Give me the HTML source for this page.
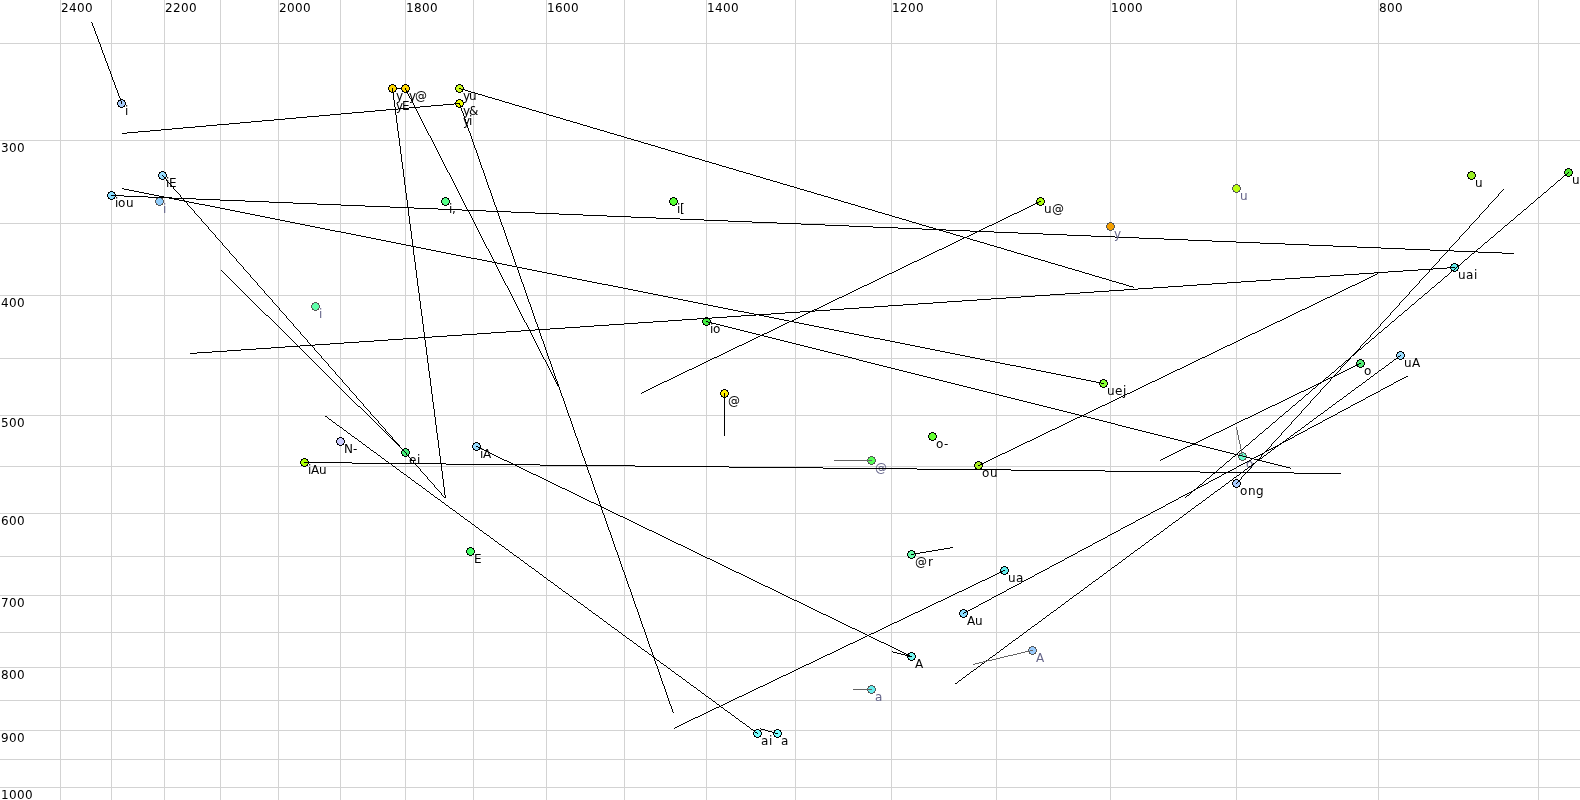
<!DOCTYPE html><html><head><meta charset="utf-8"><style>html,body{margin:0;padding:0;background:#fff;overflow:hidden}svg{display:block;will-change:transform}</style></head><body><svg width="1580" height="800" viewBox="0 0 1580 800">
<rect width="1580" height="800" fill="#fff"/>
<g stroke="#d3d3d3" stroke-width="1" shape-rendering="crispEdges">
<line x1="60.5" y1="0" x2="60.5" y2="800"/>
<line x1="111.5" y1="0" x2="111.5" y2="800"/>
<line x1="164.5" y1="0" x2="164.5" y2="800"/>
<line x1="220.5" y1="0" x2="220.5" y2="800"/>
<line x1="278.5" y1="0" x2="278.5" y2="800"/>
<line x1="340.5" y1="0" x2="340.5" y2="800"/>
<line x1="405.5" y1="0" x2="405.5" y2="800"/>
<line x1="473.5" y1="0" x2="473.5" y2="800"/>
<line x1="546.5" y1="0" x2="546.5" y2="800"/>
<line x1="624.5" y1="0" x2="624.5" y2="800"/>
<line x1="706.5" y1="0" x2="706.5" y2="800"/>
<line x1="795.5" y1="0" x2="795.5" y2="800"/>
<line x1="891.5" y1="0" x2="891.5" y2="800"/>
<line x1="996.5" y1="0" x2="996.5" y2="800"/>
<line x1="1110.5" y1="0" x2="1110.5" y2="800"/>
<line x1="1236.5" y1="0" x2="1236.5" y2="800"/>
<line x1="1378.5" y1="0" x2="1378.5" y2="800"/>
<line x1="1538.5" y1="0" x2="1538.5" y2="800"/>
<line x1="0" y1="43.5" x2="1580" y2="43.5"/>
<line x1="0" y1="140.5" x2="1580" y2="140.5"/>
<line x1="0" y1="223.5" x2="1580" y2="223.5"/>
<line x1="0" y1="295.5" x2="1580" y2="295.5"/>
<line x1="0" y1="358.5" x2="1580" y2="358.5"/>
<line x1="0" y1="415.5" x2="1580" y2="415.5"/>
<line x1="0" y1="466.5" x2="1580" y2="466.5"/>
<line x1="0" y1="513.5" x2="1580" y2="513.5"/>
<line x1="0" y1="556.5" x2="1580" y2="556.5"/>
<line x1="0" y1="595.5" x2="1580" y2="595.5"/>
<line x1="0" y1="632.5" x2="1580" y2="632.5"/>
<line x1="0" y1="667.5" x2="1580" y2="667.5"/>
<line x1="0" y1="700.5" x2="1580" y2="700.5"/>
<line x1="0" y1="730.5" x2="1580" y2="730.5"/>
<line x1="0" y1="759.5" x2="1580" y2="759.5"/>
<line x1="0" y1="787.5" x2="1580" y2="787.5"/>
</g>
<g font-family="DejaVu Sans, Liberation Sans, sans-serif" font-size="12" fill="#000" >
<text x="61 69 77 85" y="12">2400</text>
<text x="165 173 181 189" y="12">2200</text>
<text x="279 287 295 303" y="12">2000</text>
<text x="406 414 422 430" y="12">1800</text>
<text x="547 555 563 571" y="12">1600</text>
<text x="707 715 723 731" y="12">1400</text>
<text x="892 900 908 916" y="12">1200</text>
<text x="1111 1119 1127 1135" y="12">1000</text>
<text x="1379 1387 1395" y="12">800</text>
<text x="1 9 17" y="152">300</text>
<text x="1 9 17" y="307">400</text>
<text x="1 9 17" y="427">500</text>
<text x="1 9 17" y="525">600</text>
<text x="1 9 17" y="607">700</text>
<text x="1 9 17" y="679">800</text>
<text x="1 9 17" y="742">900</text>
<text x="1 9 17 25" y="799">1000</text>
</g>
<path shape-rendering="crispEdges" fill="#000" d="M392 88h14v1h-14z"/>
<g shape-rendering="crispEdges">
<path d="M120 99 123 99 123 100 125 100 125 102 126 102 126 105 125 105 125 107 123 107 123 108 120 108 120 107 118 107 118 105 117 105 117 102 118 102 118 100 120 100Z" fill="#000"/><path d="M120 100 123 100 123 101 124 101 124 102 125 102 125 105 124 105 124 106 123 106 123 107 120 107 120 106 119 106 119 105 118 105 118 102 119 102 119 101 120 101Z" fill="#a8ccfa"/>
<path d="M391 84 394 84 394 85 396 85 396 87 397 87 397 90 396 90 396 92 394 92 394 93 391 93 391 92 389 92 389 90 388 90 388 87 389 87 389 85 391 85Z" fill="#000"/><path d="M391 85 394 85 394 86 395 86 395 87 396 87 396 90 395 90 395 91 394 91 394 92 391 92 391 91 390 91 390 90 389 90 389 87 390 87 390 86 391 86Z" fill="#ffd800"/>
<path d="M404 84 407 84 407 85 409 85 409 87 410 87 410 90 409 90 409 92 407 92 407 93 404 93 404 92 402 92 402 90 401 90 401 87 402 87 402 85 404 85Z" fill="#000"/><path d="M404 85 407 85 407 86 408 86 408 87 409 87 409 90 408 90 408 91 407 91 407 92 404 92 404 91 403 91 403 90 402 90 402 87 403 87 403 86 404 86Z" fill="#ffd800"/>
<path d="M458 84 461 84 461 85 463 85 463 87 464 87 464 90 463 90 463 92 461 92 461 93 458 93 458 92 456 92 456 90 455 90 455 87 456 87 456 85 458 85Z" fill="#000"/><path d="M458 85 461 85 461 86 462 86 462 87 463 87 463 90 462 90 462 91 461 91 461 92 458 92 458 91 457 91 457 90 456 90 456 87 457 87 457 86 458 86Z" fill="#ccff22"/>
<path d="M458 99 461 99 461 100 463 100 463 102 464 102 464 105 463 105 463 107 461 107 461 108 458 108 458 107 456 107 456 105 455 105 455 102 456 102 456 100 458 100Z" fill="#000"/><path d="M458 100 461 100 461 101 462 101 462 102 463 102 463 105 462 105 462 106 461 106 461 107 458 107 458 106 457 106 457 105 456 105 456 102 457 102 457 101 458 101Z" fill="#eeff00"/>
<path d="M161 171 164 171 164 172 166 172 166 174 167 174 167 177 166 177 166 179 164 179 164 180 161 180 161 179 159 179 159 177 158 177 158 174 159 174 159 172 161 172Z" fill="#000"/><path d="M161 172 164 172 164 173 165 173 165 174 166 174 166 177 165 177 165 178 164 178 164 179 161 179 161 178 160 178 160 177 159 177 159 174 160 174 160 173 161 173Z" fill="#99ddff"/>
<path d="M110 191 113 191 113 192 115 192 115 194 116 194 116 197 115 197 115 199 113 199 113 200 110 200 110 199 108 199 108 197 107 197 107 194 108 194 108 192 110 192Z" fill="#000"/><path d="M110 192 113 192 113 193 114 193 114 194 115 194 115 197 114 197 114 198 113 198 113 199 110 199 110 198 109 198 109 197 108 197 108 194 109 194 109 193 110 193Z" fill="#88ddff"/>
<path d="M158 197 161 197 161 198 163 198 163 200 164 200 164 203 163 203 163 205 161 205 161 206 158 206 158 205 156 205 156 203 155 203 155 200 156 200 156 198 158 198Z" fill="#555555"/><path d="M158 198 161 198 161 199 162 199 162 200 163 200 163 203 162 203 162 204 161 204 161 205 158 205 158 204 157 204 157 203 156 203 156 200 157 200 157 199 158 199Z" fill="#90ccfa"/>
<path d="M444 197 447 197 447 198 449 198 449 200 450 200 450 203 449 203 449 205 447 205 447 206 444 206 444 205 442 205 442 203 441 203 441 200 442 200 442 198 444 198Z" fill="#000"/><path d="M444 198 447 198 447 199 448 199 448 200 449 200 449 203 448 203 448 204 447 204 447 205 444 205 444 204 443 204 443 203 442 203 442 200 443 200 443 199 444 199Z" fill="#55ff88"/>
<path d="M672 197 675 197 675 198 677 198 677 200 678 200 678 203 677 203 677 205 675 205 675 206 672 206 672 205 670 205 670 203 669 203 669 200 670 200 670 198 672 198Z" fill="#000"/><path d="M672 198 675 198 675 199 676 199 676 200 677 200 677 203 676 203 676 204 675 204 675 205 672 205 672 204 671 204 671 203 670 203 670 200 671 200 671 199 672 199Z" fill="#55ff33"/>
<path d="M1039 197 1042 197 1042 198 1044 198 1044 200 1045 200 1045 203 1044 203 1044 205 1042 205 1042 206 1039 206 1039 205 1037 205 1037 203 1036 203 1036 200 1037 200 1037 198 1039 198Z" fill="#000"/><path d="M1039 198 1042 198 1042 199 1043 199 1043 200 1044 200 1044 203 1043 203 1043 204 1042 204 1042 205 1039 205 1039 204 1038 204 1038 203 1037 203 1037 200 1038 200 1038 199 1039 199Z" fill="#aaff11"/>
<path d="M1109 222 1112 222 1112 223 1114 223 1114 225 1115 225 1115 228 1114 228 1114 230 1112 230 1112 231 1109 231 1109 230 1107 230 1107 228 1106 228 1106 225 1107 225 1107 223 1109 223Z" fill="#555555"/><path d="M1109 223 1112 223 1112 224 1113 224 1113 225 1114 225 1114 228 1113 228 1113 229 1112 229 1112 230 1109 230 1109 229 1108 229 1108 228 1107 228 1107 225 1108 225 1108 224 1109 224Z" fill="#f5a000"/>
<path d="M1235 184 1238 184 1238 185 1240 185 1240 187 1241 187 1241 190 1240 190 1240 192 1238 192 1238 193 1235 193 1235 192 1233 192 1233 190 1232 190 1232 187 1233 187 1233 185 1235 185Z" fill="#555555"/><path d="M1235 185 1238 185 1238 186 1239 186 1239 187 1240 187 1240 190 1239 190 1239 191 1238 191 1238 192 1235 192 1235 191 1234 191 1234 190 1233 190 1233 187 1234 187 1234 186 1235 186Z" fill="#bbff11"/>
<path d="M1470 171 1473 171 1473 172 1475 172 1475 174 1476 174 1476 177 1475 177 1475 179 1473 179 1473 180 1470 180 1470 179 1468 179 1468 177 1467 177 1467 174 1468 174 1468 172 1470 172Z" fill="#000"/><path d="M1470 172 1473 172 1473 173 1474 173 1474 174 1475 174 1475 177 1474 177 1474 178 1473 178 1473 179 1470 179 1470 178 1469 178 1469 177 1468 177 1468 174 1469 174 1469 173 1470 173Z" fill="#99ee22"/>
<path d="M1567 168 1570 168 1570 169 1572 169 1572 171 1573 171 1573 174 1572 174 1572 176 1570 176 1570 177 1567 177 1567 176 1565 176 1565 174 1564 174 1564 171 1565 171 1565 169 1567 169Z" fill="#000"/><path d="M1567 169 1570 169 1570 170 1571 170 1571 171 1572 171 1572 174 1571 174 1571 175 1570 175 1570 176 1567 176 1567 175 1566 175 1566 174 1565 174 1565 171 1566 171 1566 170 1567 170Z" fill="#55ee33"/>
<path d="M1453 263 1456 263 1456 264 1458 264 1458 266 1459 266 1459 269 1458 269 1458 271 1456 271 1456 272 1453 272 1453 271 1451 271 1451 269 1450 269 1450 266 1451 266 1451 264 1453 264Z" fill="#000"/><path d="M1453 264 1456 264 1456 265 1457 265 1457 266 1458 266 1458 269 1457 269 1457 270 1456 270 1456 271 1453 271 1453 270 1452 270 1452 269 1451 269 1451 266 1452 266 1452 265 1453 265Z" fill="#66eeee"/>
<path d="M314 302 317 302 317 303 319 303 319 305 320 305 320 308 319 308 319 310 317 310 317 311 314 311 314 310 312 310 312 308 311 308 311 305 312 305 312 303 314 303Z" fill="#555555"/><path d="M314 303 317 303 317 304 318 304 318 305 319 305 319 308 318 308 318 309 317 309 317 310 314 310 314 309 313 309 313 308 312 308 312 305 313 305 313 304 314 304Z" fill="#5fffaa"/>
<path d="M705 317 708 317 708 318 710 318 710 320 711 320 711 323 710 323 710 325 708 325 708 326 705 326 705 325 703 325 703 323 702 323 702 320 703 320 703 318 705 318Z" fill="#000"/><path d="M705 318 708 318 708 319 709 319 709 320 710 320 710 323 709 323 709 324 708 324 708 325 705 325 705 324 704 324 704 323 703 323 703 320 704 320 704 319 705 319Z" fill="#44ee44"/>
<path d="M1102 379 1105 379 1105 380 1107 380 1107 382 1108 382 1108 385 1107 385 1107 387 1105 387 1105 388 1102 388 1102 387 1100 387 1100 385 1099 385 1099 382 1100 382 1100 380 1102 380Z" fill="#000"/><path d="M1102 380 1105 380 1105 381 1106 381 1106 382 1107 382 1107 385 1106 385 1106 386 1105 386 1105 387 1102 387 1102 386 1101 386 1101 385 1100 385 1100 382 1101 382 1101 381 1102 381Z" fill="#88ff33"/>
<path d="M723 389 726 389 726 390 728 390 728 392 729 392 729 395 728 395 728 397 726 397 726 398 723 398 723 397 721 397 721 395 720 395 720 392 721 392 721 390 723 390Z" fill="#000"/><path d="M723 390 726 390 726 391 727 391 727 392 728 392 728 395 727 395 727 396 726 396 726 397 723 397 723 396 722 396 722 395 721 395 721 392 722 392 722 391 723 391Z" fill="#ffee00"/>
<path d="M1359 359 1362 359 1362 360 1364 360 1364 362 1365 362 1365 365 1364 365 1364 367 1362 367 1362 368 1359 368 1359 367 1357 367 1357 365 1356 365 1356 362 1357 362 1357 360 1359 360Z" fill="#000"/><path d="M1359 360 1362 360 1362 361 1363 361 1363 362 1364 362 1364 365 1363 365 1363 366 1362 366 1362 367 1359 367 1359 366 1358 366 1358 365 1357 365 1357 362 1358 362 1358 361 1359 361Z" fill="#55ee77"/>
<path d="M1399 351 1402 351 1402 352 1404 352 1404 354 1405 354 1405 357 1404 357 1404 359 1402 359 1402 360 1399 360 1399 359 1397 359 1397 357 1396 357 1396 354 1397 354 1397 352 1399 352Z" fill="#000"/><path d="M1399 352 1402 352 1402 353 1403 353 1403 354 1404 354 1404 357 1403 357 1403 358 1402 358 1402 359 1399 359 1399 358 1398 358 1398 357 1397 357 1397 354 1398 354 1398 353 1399 353Z" fill="#99ddff"/>
<path d="M1241 452 1244 452 1244 453 1246 453 1246 455 1247 455 1247 458 1246 458 1246 460 1244 460 1244 461 1241 461 1241 460 1239 460 1239 458 1238 458 1238 455 1239 455 1239 453 1241 453Z" fill="#555555"/><path d="M1241 453 1244 453 1244 454 1245 454 1245 455 1246 455 1246 458 1245 458 1245 459 1244 459 1244 460 1241 460 1241 459 1240 459 1240 458 1239 458 1239 455 1240 455 1240 454 1241 454Z" fill="#66ffcc"/>
<path d="M1235 479 1238 479 1238 480 1240 480 1240 482 1241 482 1241 485 1240 485 1240 487 1238 487 1238 488 1235 488 1235 487 1233 487 1233 485 1232 485 1232 482 1233 482 1233 480 1235 480Z" fill="#000"/><path d="M1235 480 1238 480 1238 481 1239 481 1239 482 1240 482 1240 485 1239 485 1239 486 1238 486 1238 487 1235 487 1235 486 1234 486 1234 485 1233 485 1233 482 1234 482 1234 481 1235 481Z" fill="#aaccff"/>
<path d="M339 437 342 437 342 438 344 438 344 440 345 440 345 443 344 443 344 445 342 445 342 446 339 446 339 445 337 445 337 443 336 443 336 440 337 440 337 438 339 438Z" fill="#000"/><path d="M339 438 342 438 342 439 343 439 343 440 344 440 344 443 343 443 343 444 342 444 342 445 339 445 339 444 338 444 338 443 337 443 337 440 338 440 338 439 339 439Z" fill="#ccccff"/>
<path d="M404 448 407 448 407 449 409 449 409 451 410 451 410 454 409 454 409 456 407 456 407 457 404 457 404 456 402 456 402 454 401 454 401 451 402 451 402 449 404 449Z" fill="#000"/><path d="M404 449 407 449 407 450 408 450 408 451 409 451 409 454 408 454 408 455 407 455 407 456 404 456 404 455 403 455 403 454 402 454 402 451 403 451 403 450 404 450Z" fill="#44ee77"/>
<path d="M475 442 478 442 478 443 480 443 480 445 481 445 481 448 480 448 480 450 478 450 478 451 475 451 475 450 473 450 473 448 472 448 472 445 473 445 473 443 475 443Z" fill="#000"/><path d="M475 443 478 443 478 444 479 444 479 445 480 445 480 448 479 448 479 449 478 449 478 450 475 450 475 449 474 449 474 448 473 448 473 445 474 445 474 444 475 444Z" fill="#99ddff"/>
<path d="M303 458 306 458 306 459 308 459 308 461 309 461 309 464 308 464 308 466 306 466 306 467 303 467 303 466 301 466 301 464 300 464 300 461 301 461 301 459 303 459Z" fill="#000"/><path d="M303 459 306 459 306 460 307 460 307 461 308 461 308 464 307 464 307 465 306 465 306 466 303 466 303 465 302 465 302 464 301 464 301 461 302 461 302 460 303 460Z" fill="#aaff00"/>
<path d="M931 432 934 432 934 433 936 433 936 435 937 435 937 438 936 438 936 440 934 440 934 441 931 441 931 440 929 440 929 438 928 438 928 435 929 435 929 433 931 433Z" fill="#000"/><path d="M931 433 934 433 934 434 935 434 935 435 936 435 936 438 935 438 935 439 934 439 934 440 931 440 931 439 930 439 930 438 929 438 929 435 930 435 930 434 931 434Z" fill="#66ff33"/>
<path d="M870 456 873 456 873 457 875 457 875 459 876 459 876 462 875 462 875 464 873 464 873 465 870 465 870 464 868 464 868 462 867 462 867 459 868 459 868 457 870 457Z" fill="#555555"/><path d="M870 457 873 457 873 458 874 458 874 459 875 459 875 462 874 462 874 463 873 463 873 464 870 464 870 463 869 463 869 462 868 462 868 459 869 459 869 458 870 458Z" fill="#55ff55"/>
<path d="M977 461 980 461 980 462 982 462 982 464 983 464 983 467 982 467 982 469 980 469 980 470 977 470 977 469 975 469 975 467 974 467 974 464 975 464 975 462 977 462Z" fill="#000"/><path d="M977 462 980 462 980 463 981 463 981 464 982 464 982 467 981 467 981 468 980 468 980 469 977 469 977 468 976 468 976 467 975 467 975 464 976 464 976 463 977 463Z" fill="#aaee22"/>
<path d="M469 547 472 547 472 548 474 548 474 550 475 550 475 553 474 553 474 555 472 555 472 556 469 556 469 555 467 555 467 553 466 553 466 550 467 550 467 548 469 548Z" fill="#000"/><path d="M469 548 472 548 472 549 473 549 473 550 474 550 474 553 473 553 473 554 472 554 472 555 469 555 469 554 468 554 468 553 467 553 467 550 468 550 468 549 469 549Z" fill="#44ff66"/>
<path d="M910 550 913 550 913 551 915 551 915 553 916 553 916 556 915 556 915 558 913 558 913 559 910 559 910 558 908 558 908 556 907 556 907 553 908 553 908 551 910 551Z" fill="#000"/><path d="M910 551 913 551 913 552 914 552 914 553 915 553 915 556 914 556 914 557 913 557 913 558 910 558 910 557 909 557 909 556 908 556 908 553 909 553 909 552 910 552Z" fill="#66ffaa"/>
<path d="M1003 566 1006 566 1006 567 1008 567 1008 569 1009 569 1009 572 1008 572 1008 574 1006 574 1006 575 1003 575 1003 574 1001 574 1001 572 1000 572 1000 569 1001 569 1001 567 1003 567Z" fill="#000"/><path d="M1003 567 1006 567 1006 568 1007 568 1007 569 1008 569 1008 572 1007 572 1007 573 1006 573 1006 574 1003 574 1003 573 1002 573 1002 572 1001 572 1001 569 1002 569 1002 568 1003 568Z" fill="#66eeee"/>
<path d="M962 609 965 609 965 610 967 610 967 612 968 612 968 615 967 615 967 617 965 617 965 618 962 618 962 617 960 617 960 615 959 615 959 612 960 612 960 610 962 610Z" fill="#000"/><path d="M962 610 965 610 965 611 966 611 966 612 967 612 967 615 966 615 966 616 965 616 965 617 962 617 962 616 961 616 961 615 960 615 960 612 961 612 961 611 962 611Z" fill="#88ddff"/>
<path d="M910 652 913 652 913 653 915 653 915 655 916 655 916 658 915 658 915 660 913 660 913 661 910 661 910 660 908 660 908 658 907 658 907 655 908 655 908 653 910 653Z" fill="#000"/><path d="M910 653 913 653 913 654 914 654 914 655 915 655 915 658 914 658 914 659 913 659 913 660 910 660 910 659 909 659 909 658 908 658 908 655 909 655 909 654 910 654Z" fill="#77f7f0"/>
<path d="M1031 646 1034 646 1034 647 1036 647 1036 649 1037 649 1037 652 1036 652 1036 654 1034 654 1034 655 1031 655 1031 654 1029 654 1029 652 1028 652 1028 649 1029 649 1029 647 1031 647Z" fill="#555555"/><path d="M1031 647 1034 647 1034 648 1035 648 1035 649 1036 649 1036 652 1035 652 1035 653 1034 653 1034 654 1031 654 1031 653 1030 653 1030 652 1029 652 1029 649 1030 649 1030 648 1031 648Z" fill="#99ccff"/>
<path d="M870 685 873 685 873 686 875 686 875 688 876 688 876 691 875 691 875 693 873 693 873 694 870 694 870 693 868 693 868 691 867 691 867 688 868 688 868 686 870 686Z" fill="#555555"/><path d="M870 686 873 686 873 687 874 687 874 688 875 688 875 691 874 691 874 692 873 692 873 693 870 693 870 692 869 692 869 691 868 691 868 688 869 688 869 687 870 687Z" fill="#66eeee"/>
<path d="M756 729 759 729 759 730 761 730 761 732 762 732 762 735 761 735 761 737 759 737 759 738 756 738 756 737 754 737 754 735 753 735 753 732 754 732 754 730 756 730Z" fill="#000"/><path d="M756 730 759 730 759 731 760 731 760 732 761 732 761 735 760 735 760 736 759 736 759 737 756 737 756 736 755 736 755 735 754 735 754 732 755 732 755 731 756 731Z" fill="#77ffff"/>
<path d="M776 729 779 729 779 730 781 730 781 732 782 732 782 735 781 735 781 737 779 737 779 738 776 738 776 737 774 737 774 735 773 735 773 732 774 732 774 730 776 730Z" fill="#000"/><path d="M776 730 779 730 779 731 780 731 780 732 781 732 781 735 780 735 780 736 779 736 779 737 776 737 776 736 775 736 775 735 774 735 774 732 775 732 775 731 776 731Z" fill="#77ffff"/>
</g>
<path shape-rendering="crispEdges" fill="#000" d="M111 195h13v1h-13zM124 196h24v1h-24zM148 197h24v1h-24zM172 198h24v1h-24zM196 199h24v1h-24zM220 200h25v1h-25zM245 201h24v1h-24zM269 202h24v1h-24zM293 203h24v1h-24zM317 204h24v1h-24zM341 205h24v1h-24zM365 206h25v1h-25zM390 207h24v1h-24zM414 208h24v1h-24zM438 209h24v1h-24zM462 210h24v1h-24zM486 211h25v1h-25zM511 212h24v1h-24zM535 213h24v1h-24zM559 214h24v1h-24zM583 215h24v1h-24zM607 216h24v1h-24zM631 217h25v1h-25zM656 218h24v1h-24zM680 219h24v1h-24zM704 220h24v1h-24zM728 221h24v1h-24zM752 222h25v1h-25zM777 223h24v1h-24zM801 224h24v1h-24zM825 225h24v1h-24zM849 226h24v1h-24zM873 227h25v1h-25zM898 228h24v1h-24zM922 229h24v1h-24zM946 230h24v1h-24zM970 231h24v1h-24zM994 232h24v1h-24zM1018 233h25v1h-25zM1043 234h24v1h-24zM1067 235h24v1h-24zM1091 236h24v1h-24zM1115 237h24v1h-24zM1139 238h25v1h-25zM1164 239h24v1h-24zM1188 240h24v1h-24zM1212 241h24v1h-24zM1236 242h24v1h-24zM1260 243h25v1h-25zM1285 244h24v1h-24zM1309 245h24v1h-24zM1333 246h24v1h-24zM1357 247h24v1h-24zM1381 248h24v1h-24zM1405 249h25v1h-25zM1430 250h24v1h-24zM1454 251h24v1h-24zM1478 252h24v1h-24zM1502 253h12v1h-12z"/>
<g font-family="DejaVu Sans, Liberation Sans, sans-serif" font-size="12" fill="#646489">
<text x="163" y="213">i</text>
<text x="1114" y="238">y</text>
<text x="1240" y="200">u</text>
<text x="319" y="318">i</text>
<text x="1246" y="468">o</text>
<text x="875" y="472">@</text>
<text x="1036" y="662">A</text>
<text x="875" y="701">a</text>
</g>
<path shape-rendering="crispEdges" fill="#000" d="M91 22h1v1h-1zM92 23h1v1h-1zM92 24h1v1h-1zM92 25h1v1h-1zM93 26h1v1h-1zM93 27h1v1h-1zM94 28h1v1h-1zM94 29h1v1h-1zM94 30h1v1h-1zM95 31h1v1h-1zM95 32h1v1h-1zM95 33h1v1h-1zM96 34h1v1h-1zM96 35h1v1h-1zM97 36h1v1h-1zM97 37h1v1h-1zM97 38h1v1h-1zM98 39h1v1h-1zM98 40h1v1h-1zM98 41h1v1h-1zM99 42h1v1h-1zM99 43h1v1h-1zM100 44h1v1h-1zM100 45h1v1h-1zM100 46h1v1h-1zM101 47h1v1h-1zM101 48h1v1h-1zM101 49h1v1h-1zM102 50h1v1h-1zM102 51h1v1h-1zM102 52h1v1h-1zM103 53h1v1h-1zM103 54h1v1h-1zM104 55h1v1h-1zM104 56h1v1h-1zM104 57h1v1h-1zM105 58h1v1h-1zM105 59h1v1h-1zM105 60h1v1h-1zM106 61h1v1h-1zM106 62h1v1h-1zM107 63h1v1h-1zM107 64h1v1h-1zM107 65h1v1h-1zM108 66h1v1h-1zM108 67h1v1h-1zM108 68h1v1h-1zM109 69h1v1h-1zM109 70h1v1h-1zM110 71h1v1h-1zM110 72h1v1h-1zM110 73h1v1h-1zM111 74h1v1h-1zM111 75h1v1h-1zM111 76h1v1h-1zM112 77h1v1h-1zM112 78h1v1h-1zM112 79h1v1h-1zM113 80h1v1h-1zM113 81h1v1h-1zM114 82h1v1h-1zM114 83h1v1h-1zM114 84h1v1h-1zM115 85h1v1h-1zM115 86h1v1h-1zM115 87h1v1h-1zM116 88h1v1h-1zM392 88h1v1h-1zM405 88h1v1h-1zM459 88h2v1h-2zM116 89h1v1h-1zM392 89h1v1h-1zM405 89h1v1h-1zM461 89h4v1h-4zM117 90h1v1h-1zM392 90h1v1h-1zM406 90h1v1h-1zM465 90h3v1h-3zM117 91h1v1h-1zM392 91h1v1h-1zM406 91h1v1h-1zM468 91h3v1h-3zM117 92h1v1h-1zM393 92h1v1h-1zM407 92h1v1h-1zM471 92h4v1h-4zM118 93h1v1h-1zM393 93h1v1h-1zM407 93h1v1h-1zM475 93h3v1h-3zM118 94h1v1h-1zM393 94h1v1h-1zM408 94h1v1h-1zM478 94h4v1h-4zM118 95h1v1h-1zM393 95h1v1h-1zM408 95h1v1h-1zM482 95h3v1h-3zM119 96h1v1h-1zM393 96h1v1h-1zM409 96h1v1h-1zM485 96h3v1h-3zM119 97h1v1h-1zM393 97h1v1h-1zM409 97h1v1h-1zM488 97h4v1h-4zM120 98h1v1h-1zM393 98h1v1h-1zM410 98h1v1h-1zM492 98h3v1h-3zM120 99h1v1h-1zM393 99h1v1h-1zM411 99h1v1h-1zM495 99h4v1h-4zM120 100h1v1h-1zM394 100h1v1h-1zM411 100h1v1h-1zM499 100h3v1h-3zM121 101h1v1h-1zM394 101h1v1h-1zM412 101h1v1h-1zM502 101h3v1h-3zM121 102h1v1h-1zM394 102h1v1h-1zM412 102h1v1h-1zM505 102h4v1h-4zM121 103h1v1h-1zM394 103h1v1h-1zM413 103h1v1h-1zM454 103h6v1h-6zM509 103h3v1h-3zM394 104h1v1h-1zM413 104h1v1h-1zM443 104h11v1h-11zM459 104h1v1h-1zM512 104h3v1h-3zM394 105h1v1h-1zM414 105h1v1h-1zM431 105h12v1h-12zM460 105h1v1h-1zM515 105h4v1h-4zM394 106h1v1h-1zM414 106h1v1h-1zM420 106h11v1h-11zM460 106h1v1h-1zM519 106h3v1h-3zM395 107h1v1h-1zM409 107h11v1h-11zM460 107h1v1h-1zM522 107h4v1h-4zM395 108h1v1h-1zM398 108h11v1h-11zM415 108h1v1h-1zM461 108h1v1h-1zM526 108h3v1h-3zM386 109h12v1h-12zM416 109h1v1h-1zM461 109h1v1h-1zM529 109h3v1h-3zM375 110h11v1h-11zM395 110h1v1h-1zM416 110h1v1h-1zM461 110h1v1h-1zM532 110h4v1h-4zM364 111h11v1h-11zM395 111h1v1h-1zM417 111h1v1h-1zM462 111h1v1h-1zM536 111h3v1h-3zM352 112h12v1h-12zM395 112h1v1h-1zM417 112h1v1h-1zM462 112h1v1h-1zM539 112h4v1h-4zM341 113h11v1h-11zM395 113h1v1h-1zM418 113h1v1h-1zM463 113h1v1h-1zM543 113h3v1h-3zM330 114h11v1h-11zM395 114h1v1h-1zM418 114h1v1h-1zM463 114h1v1h-1zM546 114h3v1h-3zM319 115h11v1h-11zM396 115h1v1h-1zM419 115h1v1h-1zM463 115h1v1h-1zM549 115h4v1h-4zM307 116h12v1h-12zM396 116h1v1h-1zM419 116h1v1h-1zM464 116h1v1h-1zM553 116h3v1h-3zM296 117h11v1h-11zM396 117h1v1h-1zM420 117h1v1h-1zM464 117h1v1h-1zM556 117h4v1h-4zM285 118h11v1h-11zM396 118h1v1h-1zM420 118h1v1h-1zM464 118h1v1h-1zM560 118h3v1h-3zM274 119h11v1h-11zM396 119h1v1h-1zM421 119h1v1h-1zM465 119h1v1h-1zM563 119h3v1h-3zM262 120h12v1h-12zM396 120h1v1h-1zM421 120h1v1h-1zM465 120h1v1h-1zM566 120h4v1h-4zM251 121h11v1h-11zM396 121h1v1h-1zM422 121h1v1h-1zM465 121h1v1h-1zM570 121h3v1h-3zM240 122h11v1h-11zM396 122h1v1h-1zM422 122h1v1h-1zM466 122h1v1h-1zM573 122h4v1h-4zM229 123h11v1h-11zM397 123h1v1h-1zM423 123h1v1h-1zM466 123h1v1h-1zM577 123h3v1h-3zM217 124h12v1h-12zM397 124h1v1h-1zM423 124h1v1h-1zM466 124h1v1h-1zM580 124h3v1h-3zM206 125h11v1h-11zM397 125h1v1h-1zM424 125h1v1h-1zM467 125h1v1h-1zM583 125h4v1h-4zM195 126h11v1h-11zM397 126h1v1h-1zM424 126h1v1h-1zM467 126h1v1h-1zM587 126h3v1h-3zM183 127h12v1h-12zM397 127h1v1h-1zM425 127h1v1h-1zM467 127h1v1h-1zM590 127h3v1h-3zM172 128h11v1h-11zM397 128h1v1h-1zM425 128h1v1h-1zM468 128h1v1h-1zM593 128h4v1h-4zM161 129h11v1h-11zM397 129h1v1h-1zM426 129h1v1h-1zM468 129h1v1h-1zM597 129h3v1h-3zM150 130h11v1h-11zM397 130h1v1h-1zM426 130h1v1h-1zM468 130h1v1h-1zM600 130h4v1h-4zM138 131h12v1h-12zM398 131h1v1h-1zM427 131h1v1h-1zM469 131h1v1h-1zM604 131h3v1h-3zM127 132h11v1h-11zM398 132h1v1h-1zM427 132h1v1h-1zM469 132h1v1h-1zM607 132h3v1h-3zM122 133h5v1h-5zM398 133h1v1h-1zM428 133h1v1h-1zM470 133h1v1h-1zM610 133h4v1h-4zM398 134h1v1h-1zM428 134h1v1h-1zM470 134h1v1h-1zM614 134h3v1h-3zM398 135h1v1h-1zM429 135h1v1h-1zM470 135h1v1h-1zM617 135h4v1h-4zM398 136h1v1h-1zM430 136h1v1h-1zM471 136h1v1h-1zM621 136h3v1h-3zM398 137h1v1h-1zM430 137h1v1h-1zM471 137h1v1h-1zM624 137h3v1h-3zM399 138h1v1h-1zM431 138h1v1h-1zM471 138h1v1h-1zM627 138h4v1h-4zM399 139h1v1h-1zM431 139h1v1h-1zM472 139h1v1h-1zM631 139h3v1h-3zM399 140h1v1h-1zM432 140h1v1h-1zM472 140h1v1h-1zM634 140h4v1h-4zM399 141h1v1h-1zM432 141h1v1h-1zM472 141h1v1h-1zM638 141h3v1h-3zM399 142h1v1h-1zM433 142h1v1h-1zM473 142h1v1h-1zM641 142h3v1h-3zM399 143h1v1h-1zM433 143h1v1h-1zM473 143h1v1h-1zM644 143h4v1h-4zM399 144h1v1h-1zM434 144h1v1h-1zM473 144h1v1h-1zM648 144h3v1h-3zM399 145h1v1h-1zM434 145h1v1h-1zM474 145h1v1h-1zM651 145h4v1h-4zM400 146h1v1h-1zM435 146h1v1h-1zM474 146h1v1h-1zM655 146h3v1h-3zM400 147h1v1h-1zM435 147h1v1h-1zM474 147h1v1h-1zM658 147h3v1h-3zM400 148h1v1h-1zM436 148h1v1h-1zM475 148h1v1h-1zM661 148h4v1h-4zM400 149h1v1h-1zM436 149h1v1h-1zM475 149h1v1h-1zM665 149h3v1h-3zM400 150h1v1h-1zM437 150h1v1h-1zM476 150h1v1h-1zM668 150h3v1h-3zM400 151h1v1h-1zM437 151h1v1h-1zM476 151h1v1h-1zM671 151h4v1h-4zM400 152h1v1h-1zM438 152h1v1h-1zM476 152h1v1h-1zM675 152h3v1h-3zM400 153h1v1h-1zM438 153h1v1h-1zM477 153h1v1h-1zM678 153h4v1h-4zM401 154h1v1h-1zM439 154h1v1h-1zM477 154h1v1h-1zM682 154h3v1h-3zM401 155h1v1h-1zM439 155h1v1h-1zM477 155h1v1h-1zM685 155h3v1h-3zM401 156h1v1h-1zM440 156h1v1h-1zM478 156h1v1h-1zM688 156h4v1h-4zM401 157h1v1h-1zM440 157h1v1h-1zM478 157h1v1h-1zM692 157h3v1h-3zM401 158h1v1h-1zM441 158h1v1h-1zM478 158h1v1h-1zM695 158h4v1h-4zM401 159h1v1h-1zM441 159h1v1h-1zM479 159h1v1h-1zM699 159h3v1h-3zM401 160h1v1h-1zM442 160h1v1h-1zM479 160h1v1h-1zM702 160h3v1h-3zM401 161h1v1h-1zM442 161h1v1h-1zM479 161h1v1h-1zM705 161h4v1h-4zM402 162h1v1h-1zM443 162h1v1h-1zM480 162h1v1h-1zM709 162h3v1h-3zM402 163h1v1h-1zM443 163h1v1h-1zM480 163h1v1h-1zM712 163h4v1h-4zM402 164h1v1h-1zM444 164h1v1h-1zM480 164h1v1h-1zM716 164h3v1h-3zM402 165h1v1h-1zM444 165h1v1h-1zM481 165h1v1h-1zM719 165h3v1h-3zM402 166h1v1h-1zM445 166h1v1h-1zM481 166h1v1h-1zM722 166h4v1h-4zM402 167h1v1h-1zM445 167h1v1h-1zM481 167h1v1h-1zM726 167h3v1h-3zM402 168h1v1h-1zM446 168h1v1h-1zM482 168h1v1h-1zM729 168h4v1h-4zM403 169h1v1h-1zM446 169h1v1h-1zM482 169h1v1h-1zM733 169h3v1h-3zM403 170h1v1h-1zM447 170h1v1h-1zM483 170h1v1h-1zM736 170h3v1h-3zM403 171h1v1h-1zM447 171h1v1h-1zM483 171h1v1h-1zM739 171h4v1h-4zM403 172h1v1h-1zM448 172h1v1h-1zM483 172h1v1h-1zM743 172h3v1h-3zM1568 172h1v1h-1zM403 173h1v1h-1zM449 173h1v1h-1zM484 173h1v1h-1zM746 173h4v1h-4zM1567 173h1v1h-1zM403 174h1v1h-1zM449 174h1v1h-1zM484 174h1v1h-1zM750 174h3v1h-3zM1566 174h1v1h-1zM162 175h1v1h-1zM403 175h1v1h-1zM450 175h1v1h-1zM484 175h1v1h-1zM753 175h3v1h-3zM1564 175h2v1h-2zM163 176h1v1h-1zM403 176h1v1h-1zM450 176h1v1h-1zM485 176h1v1h-1zM756 176h4v1h-4zM1563 176h1v1h-1zM164 177h1v1h-1zM404 177h1v1h-1zM451 177h1v1h-1zM485 177h1v1h-1zM760 177h3v1h-3zM1562 177h1v1h-1zM165 178h1v1h-1zM404 178h1v1h-1zM451 178h1v1h-1zM485 178h1v1h-1zM763 178h3v1h-3zM1561 178h1v1h-1zM166 179h1v1h-1zM404 179h1v1h-1zM452 179h1v1h-1zM486 179h1v1h-1zM766 179h4v1h-4zM1560 179h1v1h-1zM166 180h1v1h-1zM404 180h1v1h-1zM452 180h1v1h-1zM486 180h1v1h-1zM770 180h3v1h-3zM1558 180h2v1h-2zM167 181h1v1h-1zM404 181h1v1h-1zM453 181h1v1h-1zM486 181h1v1h-1zM773 181h4v1h-4zM1557 181h1v1h-1zM168 182h1v1h-1zM404 182h1v1h-1zM453 182h1v1h-1zM487 182h1v1h-1zM777 182h3v1h-3zM1556 182h1v1h-1zM169 183h1v1h-1zM404 183h1v1h-1zM454 183h1v1h-1zM487 183h1v1h-1zM780 183h3v1h-3zM1555 183h1v1h-1zM170 184h1v1h-1zM404 184h1v1h-1zM454 184h1v1h-1zM487 184h1v1h-1zM783 184h4v1h-4zM1554 184h1v1h-1zM171 185h1v1h-1zM405 185h1v1h-1zM455 185h1v1h-1zM488 185h1v1h-1zM787 185h3v1h-3zM1553 185h1v1h-1zM172 186h1v1h-1zM405 186h1v1h-1zM455 186h1v1h-1zM488 186h1v1h-1zM790 186h4v1h-4zM1551 186h2v1h-2zM173 187h1v1h-1zM405 187h1v1h-1zM456 187h1v1h-1zM488 187h1v1h-1zM794 187h3v1h-3zM1550 187h1v1h-1zM122 188h2v1h-2zM173 188h1v1h-1zM405 188h1v1h-1zM456 188h1v1h-1zM489 188h1v1h-1zM797 188h3v1h-3zM1549 188h1v1h-1zM124 189h5v1h-5zM174 189h1v1h-1zM405 189h1v1h-1zM457 189h1v1h-1zM489 189h1v1h-1zM800 189h4v1h-4zM1503 189h1v1h-1zM1548 189h1v1h-1zM129 190h5v1h-5zM175 190h1v1h-1zM405 190h1v1h-1zM457 190h1v1h-1zM490 190h1v1h-1zM804 190h3v1h-3zM1502 190h1v1h-1zM1547 190h1v1h-1zM134 191h5v1h-5zM176 191h1v1h-1zM405 191h1v1h-1zM458 191h1v1h-1zM490 191h1v1h-1zM807 191h4v1h-4zM1501 191h1v1h-1zM1546 191h1v1h-1zM139 192h5v1h-5zM177 192h1v1h-1zM405 192h1v1h-1zM458 192h1v1h-1zM490 192h1v1h-1zM811 192h3v1h-3zM1500 192h1v1h-1zM1544 192h2v1h-2zM144 193h5v1h-5zM178 193h1v1h-1zM406 193h1v1h-1zM459 193h1v1h-1zM491 193h1v1h-1zM814 193h3v1h-3zM1499 193h1v1h-1zM1543 193h1v1h-1zM149 194h5v1h-5zM179 194h1v1h-1zM406 194h1v1h-1zM459 194h1v1h-1zM491 194h1v1h-1zM817 194h4v1h-4zM1498 194h1v1h-1zM1542 194h1v1h-1zM154 195h5v1h-5zM180 195h1v1h-1zM406 195h1v1h-1zM460 195h1v1h-1zM491 195h1v1h-1zM821 195h3v1h-3zM1498 195h1v1h-1zM1541 195h1v1h-1zM159 196h5v1h-5zM180 196h1v1h-1zM406 196h1v1h-1zM460 196h1v1h-1zM492 196h1v1h-1zM824 196h4v1h-4zM1497 196h1v1h-1zM1540 196h1v1h-1zM164 197h5v1h-5zM181 197h1v1h-1zM406 197h1v1h-1zM461 197h1v1h-1zM492 197h1v1h-1zM828 197h3v1h-3zM1496 197h1v1h-1zM1538 197h2v1h-2zM169 198h5v1h-5zM182 198h1v1h-1zM406 198h1v1h-1zM461 198h1v1h-1zM492 198h1v1h-1zM831 198h3v1h-3zM1495 198h1v1h-1zM1537 198h1v1h-1zM174 199h5v1h-5zM183 199h1v1h-1zM406 199h1v1h-1zM462 199h1v1h-1zM493 199h1v1h-1zM834 199h4v1h-4zM1494 199h1v1h-1zM1536 199h1v1h-1zM179 200h6v1h-6zM407 200h1v1h-1zM462 200h1v1h-1zM493 200h1v1h-1zM838 200h3v1h-3zM1493 200h1v1h-1zM1535 200h1v1h-1zM184 201h5v1h-5zM407 201h1v1h-1zM463 201h1v1h-1zM493 201h1v1h-1zM841 201h3v1h-3zM1039 201h2v1h-2zM1492 201h1v1h-1zM1534 201h1v1h-1zM186 202h1v1h-1zM189 202h5v1h-5zM407 202h1v1h-1zM463 202h1v1h-1zM494 202h1v1h-1zM844 202h4v1h-4zM1037 202h2v1h-2zM1491 202h1v1h-1zM1533 202h1v1h-1zM187 203h1v1h-1zM194 203h5v1h-5zM407 203h1v1h-1zM464 203h1v1h-1zM494 203h1v1h-1zM848 203h3v1h-3zM1035 203h2v1h-2zM1490 203h1v1h-1zM1531 203h2v1h-2zM187 204h1v1h-1zM199 204h6v1h-6zM407 204h1v1h-1zM464 204h1v1h-1zM494 204h1v1h-1zM851 204h4v1h-4zM1033 204h2v1h-2zM1489 204h1v1h-1zM1530 204h1v1h-1zM188 205h1v1h-1zM205 205h5v1h-5zM407 205h1v1h-1zM465 205h1v1h-1zM495 205h1v1h-1zM855 205h3v1h-3zM1031 205h2v1h-2zM1488 205h1v1h-1zM1529 205h1v1h-1zM189 206h1v1h-1zM210 206h5v1h-5zM407 206h1v1h-1zM465 206h1v1h-1zM495 206h1v1h-1zM858 206h3v1h-3zM1029 206h2v1h-2zM1488 206h1v1h-1zM1528 206h1v1h-1zM190 207h1v1h-1zM215 207h5v1h-5zM407 207h1v1h-1zM466 207h1v1h-1zM496 207h1v1h-1zM861 207h4v1h-4zM1027 207h2v1h-2zM1487 207h1v1h-1zM1527 207h1v1h-1zM191 208h1v1h-1zM220 208h5v1h-5zM408 208h1v1h-1zM466 208h1v1h-1zM496 208h1v1h-1zM865 208h3v1h-3zM1025 208h2v1h-2zM1486 208h1v1h-1zM1526 208h1v1h-1zM192 209h1v1h-1zM225 209h5v1h-5zM408 209h1v1h-1zM467 209h1v1h-1zM496 209h1v1h-1zM868 209h4v1h-4zM1023 209h2v1h-2zM1485 209h1v1h-1zM1524 209h2v1h-2zM193 210h1v1h-1zM230 210h5v1h-5zM408 210h1v1h-1zM467 210h1v1h-1zM497 210h1v1h-1zM872 210h3v1h-3zM1021 210h2v1h-2zM1484 210h1v1h-1zM1523 210h1v1h-1zM194 211h1v1h-1zM235 211h5v1h-5zM408 211h1v1h-1zM468 211h1v1h-1zM497 211h1v1h-1zM875 211h3v1h-3zM1019 211h2v1h-2zM1483 211h1v1h-1zM1522 211h1v1h-1zM194 212h1v1h-1zM240 212h5v1h-5zM408 212h1v1h-1zM469 212h1v1h-1zM497 212h1v1h-1zM878 212h4v1h-4zM1017 212h2v1h-2zM1482 212h1v1h-1zM1521 212h1v1h-1zM195 213h1v1h-1zM245 213h5v1h-5zM408 213h1v1h-1zM469 213h1v1h-1zM498 213h1v1h-1zM882 213h3v1h-3zM1014 213h3v1h-3zM1481 213h1v1h-1zM1520 213h1v1h-1zM196 214h1v1h-1zM250 214h5v1h-5zM408 214h1v1h-1zM470 214h1v1h-1zM498 214h1v1h-1zM885 214h4v1h-4zM1012 214h2v1h-2zM1480 214h1v1h-1zM1518 214h2v1h-2zM197 215h1v1h-1zM255 215h5v1h-5zM408 215h1v1h-1zM470 215h1v1h-1zM498 215h1v1h-1zM889 215h3v1h-3zM1010 215h2v1h-2zM1479 215h1v1h-1zM1517 215h1v1h-1zM198 216h1v1h-1zM260 216h5v1h-5zM409 216h1v1h-1zM471 216h1v1h-1zM499 216h1v1h-1zM892 216h3v1h-3zM1008 216h2v1h-2zM1479 216h1v1h-1zM1516 216h1v1h-1zM199 217h1v1h-1zM265 217h5v1h-5zM409 217h1v1h-1zM471 217h1v1h-1zM499 217h1v1h-1zM895 217h4v1h-4zM1006 217h2v1h-2zM1478 217h1v1h-1zM1515 217h1v1h-1zM200 218h1v1h-1zM270 218h5v1h-5zM409 218h1v1h-1zM472 218h1v1h-1zM499 218h1v1h-1zM899 218h3v1h-3zM1004 218h2v1h-2zM1477 218h1v1h-1zM1514 218h1v1h-1zM201 219h1v1h-1zM275 219h5v1h-5zM409 219h1v1h-1zM472 219h1v1h-1zM500 219h1v1h-1zM902 219h4v1h-4zM1002 219h2v1h-2zM1476 219h1v1h-1zM1513 219h1v1h-1zM201 220h1v1h-1zM280 220h5v1h-5zM409 220h1v1h-1zM473 220h1v1h-1zM500 220h1v1h-1zM906 220h3v1h-3zM1000 220h2v1h-2zM1475 220h1v1h-1zM1511 220h2v1h-2zM202 221h1v1h-1zM285 221h5v1h-5zM409 221h1v1h-1zM473 221h1v1h-1zM500 221h1v1h-1zM909 221h3v1h-3zM998 221h2v1h-2zM1474 221h1v1h-1zM1510 221h1v1h-1zM203 222h1v1h-1zM290 222h5v1h-5zM409 222h1v1h-1zM474 222h1v1h-1zM501 222h1v1h-1zM912 222h4v1h-4zM996 222h2v1h-2zM1473 222h1v1h-1zM1509 222h1v1h-1zM204 223h1v1h-1zM295 223h5v1h-5zM409 223h1v1h-1zM474 223h1v1h-1zM501 223h1v1h-1zM916 223h3v1h-3zM994 223h2v1h-2zM1472 223h1v1h-1zM1508 223h1v1h-1zM205 224h1v1h-1zM300 224h5v1h-5zM410 224h1v1h-1zM475 224h1v1h-1zM501 224h1v1h-1zM919 224h3v1h-3zM992 224h2v1h-2zM1471 224h1v1h-1zM1507 224h1v1h-1zM206 225h1v1h-1zM305 225h5v1h-5zM410 225h1v1h-1zM475 225h1v1h-1zM502 225h1v1h-1zM922 225h4v1h-4zM989 225h3v1h-3zM1470 225h1v1h-1zM1505 225h2v1h-2zM207 226h1v1h-1zM310 226h5v1h-5zM410 226h1v1h-1zM476 226h1v1h-1zM502 226h1v1h-1zM926 226h3v1h-3zM987 226h2v1h-2zM1469 226h1v1h-1zM1504 226h1v1h-1zM208 227h1v1h-1zM315 227h5v1h-5zM410 227h1v1h-1zM476 227h1v1h-1zM503 227h1v1h-1zM929 227h4v1h-4zM985 227h2v1h-2zM1469 227h1v1h-1zM1503 227h1v1h-1zM208 228h1v1h-1zM320 228h5v1h-5zM410 228h1v1h-1zM477 228h1v1h-1zM503 228h1v1h-1zM933 228h3v1h-3zM983 228h2v1h-2zM1468 228h1v1h-1zM1502 228h1v1h-1zM209 229h1v1h-1zM325 229h5v1h-5zM410 229h1v1h-1zM477 229h1v1h-1zM503 229h1v1h-1zM936 229h3v1h-3zM981 229h2v1h-2zM1467 229h1v1h-1zM1501 229h1v1h-1zM210 230h1v1h-1zM330 230h5v1h-5zM410 230h1v1h-1zM478 230h1v1h-1zM504 230h1v1h-1zM939 230h4v1h-4zM979 230h2v1h-2zM1466 230h1v1h-1zM1500 230h1v1h-1zM211 231h1v1h-1zM335 231h6v1h-6zM411 231h1v1h-1zM478 231h1v1h-1zM504 231h1v1h-1zM943 231h3v1h-3zM977 231h2v1h-2zM1465 231h1v1h-1zM1498 231h2v1h-2zM212 232h1v1h-1zM341 232h5v1h-5zM411 232h1v1h-1zM479 232h1v1h-1zM504 232h1v1h-1zM946 232h4v1h-4zM975 232h2v1h-2zM1464 232h1v1h-1zM1497 232h1v1h-1zM213 233h1v1h-1zM346 233h5v1h-5zM411 233h1v1h-1zM479 233h1v1h-1zM505 233h1v1h-1zM950 233h3v1h-3zM973 233h2v1h-2zM1463 233h1v1h-1zM1496 233h1v1h-1zM214 234h1v1h-1zM351 234h5v1h-5zM411 234h1v1h-1zM480 234h1v1h-1zM505 234h1v1h-1zM953 234h3v1h-3zM971 234h2v1h-2zM1462 234h1v1h-1zM1495 234h1v1h-1zM215 235h1v1h-1zM356 235h5v1h-5zM411 235h1v1h-1zM480 235h1v1h-1zM505 235h1v1h-1zM956 235h4v1h-4zM969 235h2v1h-2zM1461 235h1v1h-1zM1494 235h1v1h-1zM215 236h1v1h-1zM361 236h5v1h-5zM411 236h1v1h-1zM481 236h1v1h-1zM506 236h1v1h-1zM960 236h3v1h-3zM967 236h2v1h-2zM1460 236h1v1h-1zM1493 236h1v1h-1zM216 237h1v1h-1zM366 237h5v1h-5zM411 237h1v1h-1zM481 237h1v1h-1zM506 237h1v1h-1zM963 237h4v1h-4zM1459 237h1v1h-1zM1491 237h2v1h-2zM217 238h1v1h-1zM371 238h5v1h-5zM411 238h1v1h-1zM482 238h1v1h-1zM506 238h1v1h-1zM962 238h2v1h-2zM967 238h3v1h-3zM1459 238h1v1h-1zM1490 238h1v1h-1zM218 239h1v1h-1zM376 239h5v1h-5zM412 239h1v1h-1zM482 239h1v1h-1zM507 239h1v1h-1zM960 239h2v1h-2zM970 239h3v1h-3zM1458 239h1v1h-1zM1489 239h1v1h-1zM219 240h1v1h-1zM381 240h5v1h-5zM412 240h1v1h-1zM483 240h1v1h-1zM507 240h1v1h-1zM958 240h2v1h-2zM973 240h4v1h-4zM1457 240h1v1h-1zM1488 240h1v1h-1zM220 241h1v1h-1zM386 241h5v1h-5zM412 241h1v1h-1zM483 241h1v1h-1zM507 241h1v1h-1zM956 241h2v1h-2zM977 241h3v1h-3zM1456 241h1v1h-1zM1487 241h1v1h-1zM221 242h1v1h-1zM391 242h5v1h-5zM412 242h1v1h-1zM484 242h1v1h-1zM508 242h1v1h-1zM954 242h2v1h-2zM980 242h4v1h-4zM1455 242h1v1h-1zM1485 242h2v1h-2zM222 243h1v1h-1zM396 243h5v1h-5zM412 243h1v1h-1zM484 243h1v1h-1zM508 243h1v1h-1zM952 243h2v1h-2zM984 243h3v1h-3zM1454 243h1v1h-1zM1484 243h1v1h-1zM222 244h1v1h-1zM401 244h5v1h-5zM412 244h1v1h-1zM485 244h1v1h-1zM508 244h1v1h-1zM950 244h2v1h-2zM987 244h3v1h-3zM1453 244h1v1h-1zM1483 244h1v1h-1zM223 245h1v1h-1zM406 245h5v1h-5zM412 245h1v1h-1zM485 245h1v1h-1zM509 245h1v1h-1zM948 245h2v1h-2zM990 245h4v1h-4zM1452 245h1v1h-1zM1482 245h1v1h-1zM224 246h1v1h-1zM411 246h5v1h-5zM486 246h1v1h-1zM509 246h1v1h-1zM946 246h2v1h-2zM994 246h3v1h-3zM1451 246h1v1h-1zM1481 246h1v1h-1zM225 247h1v1h-1zM413 247h1v1h-1zM416 247h5v1h-5zM486 247h1v1h-1zM510 247h1v1h-1zM944 247h2v1h-2zM997 247h4v1h-4zM1450 247h1v1h-1zM1480 247h1v1h-1zM226 248h1v1h-1zM413 248h1v1h-1zM421 248h5v1h-5zM487 248h1v1h-1zM510 248h1v1h-1zM942 248h2v1h-2zM1001 248h3v1h-3zM1449 248h1v1h-1zM1478 248h2v1h-2zM227 249h1v1h-1zM413 249h1v1h-1zM426 249h5v1h-5zM488 249h1v1h-1zM510 249h1v1h-1zM939 249h3v1h-3zM1004 249h3v1h-3zM1449 249h1v1h-1zM1477 249h1v1h-1zM228 250h1v1h-1zM413 250h1v1h-1zM431 250h5v1h-5zM488 250h1v1h-1zM511 250h1v1h-1zM937 250h2v1h-2zM1007 250h4v1h-4zM1448 250h1v1h-1zM1476 250h1v1h-1zM229 251h1v1h-1zM413 251h1v1h-1zM436 251h5v1h-5zM489 251h1v1h-1zM511 251h1v1h-1zM935 251h2v1h-2zM1011 251h3v1h-3zM1447 251h1v1h-1zM1475 251h1v1h-1zM229 252h1v1h-1zM413 252h1v1h-1zM441 252h5v1h-5zM489 252h1v1h-1zM511 252h1v1h-1zM933 252h2v1h-2zM1014 252h3v1h-3zM1446 252h1v1h-1zM1474 252h1v1h-1zM230 253h1v1h-1zM413 253h1v1h-1zM446 253h5v1h-5zM490 253h1v1h-1zM512 253h1v1h-1zM931 253h2v1h-2zM1017 253h4v1h-4zM1445 253h1v1h-1zM1472 253h2v1h-2zM231 254h1v1h-1zM413 254h1v1h-1zM451 254h5v1h-5zM490 254h1v1h-1zM512 254h1v1h-1zM929 254h2v1h-2zM1021 254h3v1h-3zM1444 254h1v1h-1zM1471 254h1v1h-1zM232 255h1v1h-1zM414 255h1v1h-1zM456 255h5v1h-5zM491 255h1v1h-1zM512 255h1v1h-1zM927 255h2v1h-2zM1024 255h4v1h-4zM1443 255h1v1h-1zM1470 255h1v1h-1zM233 256h1v1h-1zM414 256h1v1h-1zM461 256h5v1h-5zM491 256h1v1h-1zM513 256h1v1h-1zM925 256h2v1h-2zM1028 256h3v1h-3zM1442 256h1v1h-1zM1469 256h1v1h-1zM234 257h1v1h-1zM414 257h1v1h-1zM466 257h5v1h-5zM492 257h1v1h-1zM513 257h1v1h-1zM923 257h2v1h-2zM1031 257h3v1h-3zM1441 257h1v1h-1zM1468 257h1v1h-1zM235 258h1v1h-1zM414 258h1v1h-1zM471 258h6v1h-6zM492 258h1v1h-1zM513 258h1v1h-1zM921 258h2v1h-2zM1034 258h4v1h-4zM1440 258h1v1h-1zM1467 258h1v1h-1zM236 259h1v1h-1zM414 259h1v1h-1zM477 259h5v1h-5zM493 259h1v1h-1zM514 259h1v1h-1zM919 259h2v1h-2zM1038 259h3v1h-3zM1439 259h1v1h-1zM1465 259h2v1h-2zM236 260h1v1h-1zM414 260h1v1h-1zM482 260h5v1h-5zM493 260h1v1h-1zM514 260h1v1h-1zM917 260h2v1h-2zM1041 260h4v1h-4zM1439 260h1v1h-1zM1464 260h1v1h-1zM237 261h1v1h-1zM414 261h1v1h-1zM487 261h5v1h-5zM494 261h1v1h-1zM514 261h1v1h-1zM914 261h3v1h-3zM1045 261h3v1h-3zM1438 261h1v1h-1zM1463 261h1v1h-1zM238 262h1v1h-1zM415 262h1v1h-1zM492 262h5v1h-5zM515 262h1v1h-1zM912 262h2v1h-2zM1048 262h3v1h-3zM1437 262h1v1h-1zM1462 262h1v1h-1zM239 263h1v1h-1zM415 263h1v1h-1zM495 263h1v1h-1zM497 263h5v1h-5zM515 263h1v1h-1zM910 263h2v1h-2zM1051 263h4v1h-4zM1436 263h1v1h-1zM1461 263h1v1h-1zM240 264h1v1h-1zM415 264h1v1h-1zM495 264h1v1h-1zM502 264h5v1h-5zM515 264h1v1h-1zM908 264h2v1h-2zM1055 264h3v1h-3zM1435 264h1v1h-1zM1460 264h1v1h-1zM241 265h1v1h-1zM415 265h1v1h-1zM496 265h1v1h-1zM507 265h5v1h-5zM516 265h1v1h-1zM906 265h2v1h-2zM1058 265h4v1h-4zM1434 265h1v1h-1zM1458 265h2v1h-2zM242 266h1v1h-1zM415 266h1v1h-1zM496 266h1v1h-1zM512 266h5v1h-5zM904 266h2v1h-2zM1062 266h3v1h-3zM1433 266h1v1h-1zM1457 266h1v1h-1zM243 267h1v1h-1zM415 267h1v1h-1zM497 267h1v1h-1zM517 267h5v1h-5zM902 267h2v1h-2zM1065 267h3v1h-3zM1432 267h1v1h-1zM1447 267h8v1h-8zM1456 267h1v1h-1zM243 268h1v1h-1zM415 268h1v1h-1zM497 268h1v1h-1zM517 268h1v1h-1zM522 268h5v1h-5zM900 268h2v1h-2zM1068 268h4v1h-4zM1431 268h1v1h-1zM1433 268h14v1h-14zM1455 268h1v1h-1zM244 269h1v1h-1zM415 269h1v1h-1zM498 269h1v1h-1zM517 269h1v1h-1zM527 269h5v1h-5zM898 269h2v1h-2zM1072 269h3v1h-3zM1418 269h15v1h-15zM1454 269h1v1h-1zM221 270h1v1h-1zM245 270h1v1h-1zM416 270h1v1h-1zM498 270h1v1h-1zM518 270h1v1h-1zM532 270h5v1h-5zM896 270h2v1h-2zM1075 270h4v1h-4zM1403 270h15v1h-15zM1429 270h1v1h-1zM1452 270h2v1h-2zM222 271h1v1h-1zM246 271h1v1h-1zM416 271h1v1h-1zM499 271h1v1h-1zM518 271h1v1h-1zM537 271h5v1h-5zM894 271h2v1h-2zM1079 271h3v1h-3zM1388 271h15v1h-15zM1429 271h1v1h-1zM1451 271h1v1h-1zM223 272h1v1h-1zM247 272h1v1h-1zM416 272h1v1h-1zM499 272h1v1h-1zM518 272h1v1h-1zM542 272h5v1h-5zM892 272h2v1h-2zM1082 272h3v1h-3zM1374 272h14v1h-14zM1428 272h1v1h-1zM1450 272h1v1h-1zM224 273h1v1h-1zM248 273h1v1h-1zM416 273h1v1h-1zM500 273h1v1h-1zM519 273h1v1h-1zM547 273h5v1h-5zM889 273h3v1h-3zM1085 273h4v1h-4zM1359 273h15v1h-15zM1377 273h1v1h-1zM1427 273h1v1h-1zM1449 273h1v1h-1zM225 274h1v1h-1zM249 274h1v1h-1zM416 274h1v1h-1zM500 274h1v1h-1zM519 274h1v1h-1zM552 274h5v1h-5zM887 274h2v1h-2zM1089 274h3v1h-3zM1344 274h15v1h-15zM1375 274h2v1h-2zM1426 274h1v1h-1zM1448 274h1v1h-1zM226 275h1v1h-1zM250 275h1v1h-1zM416 275h1v1h-1zM501 275h1v1h-1zM519 275h1v1h-1zM557 275h5v1h-5zM885 275h2v1h-2zM1092 275h3v1h-3zM1330 275h14v1h-14zM1373 275h2v1h-2zM1425 275h1v1h-1zM1447 275h1v1h-1zM227 276h1v1h-1zM250 276h1v1h-1zM416 276h1v1h-1zM501 276h1v1h-1zM520 276h1v1h-1zM562 276h5v1h-5zM883 276h2v1h-2zM1095 276h4v1h-4zM1315 276h15v1h-15zM1371 276h2v1h-2zM1424 276h1v1h-1zM1445 276h2v1h-2zM228 277h1v1h-1zM251 277h1v1h-1zM416 277h1v1h-1zM502 277h1v1h-1zM520 277h1v1h-1zM567 277h5v1h-5zM881 277h2v1h-2zM1099 277h3v1h-3zM1300 277h15v1h-15zM1369 277h2v1h-2zM1423 277h1v1h-1zM1444 277h1v1h-1zM229 278h1v1h-1zM252 278h1v1h-1zM417 278h1v1h-1zM502 278h1v1h-1zM520 278h1v1h-1zM572 278h5v1h-5zM879 278h2v1h-2zM1102 278h4v1h-4zM1285 278h15v1h-15zM1367 278h2v1h-2zM1422 278h1v1h-1zM1443 278h1v1h-1zM230 279h1v1h-1zM253 279h1v1h-1zM417 279h1v1h-1zM503 279h1v1h-1zM521 279h1v1h-1zM577 279h5v1h-5zM877 279h2v1h-2zM1106 279h3v1h-3zM1271 279h14v1h-14zM1365 279h2v1h-2zM1421 279h1v1h-1zM1442 279h1v1h-1zM231 280h1v1h-1zM254 280h1v1h-1zM417 280h1v1h-1zM503 280h1v1h-1zM521 280h1v1h-1zM582 280h5v1h-5zM875 280h2v1h-2zM1109 280h3v1h-3zM1256 280h15v1h-15zM1363 280h2v1h-2zM1420 280h1v1h-1zM1441 280h1v1h-1zM232 281h1v1h-1zM255 281h1v1h-1zM417 281h1v1h-1zM504 281h1v1h-1zM521 281h1v1h-1zM587 281h5v1h-5zM873 281h2v1h-2zM1112 281h4v1h-4zM1241 281h15v1h-15zM1361 281h2v1h-2zM1419 281h1v1h-1zM1440 281h1v1h-1zM233 282h1v1h-1zM256 282h1v1h-1zM417 282h1v1h-1zM504 282h1v1h-1zM522 282h1v1h-1zM592 282h5v1h-5zM871 282h2v1h-2zM1116 282h3v1h-3zM1227 282h14v1h-14zM1359 282h2v1h-2zM1419 282h1v1h-1zM1438 282h2v1h-2zM234 283h1v1h-1zM257 283h1v1h-1zM417 283h1v1h-1zM505 283h1v1h-1zM522 283h1v1h-1zM597 283h5v1h-5zM869 283h2v1h-2zM1119 283h4v1h-4zM1212 283h15v1h-15zM1357 283h2v1h-2zM1418 283h1v1h-1zM1437 283h1v1h-1zM235 284h1v1h-1zM257 284h1v1h-1zM417 284h1v1h-1zM505 284h1v1h-1zM523 284h1v1h-1zM602 284h6v1h-6zM867 284h2v1h-2zM1123 284h3v1h-3zM1197 284h15v1h-15zM1355 284h2v1h-2zM1417 284h1v1h-1zM1436 284h1v1h-1zM236 285h1v1h-1zM258 285h1v1h-1zM417 285h1v1h-1zM506 285h1v1h-1zM523 285h1v1h-1zM608 285h5v1h-5zM864 285h3v1h-3zM1126 285h3v1h-3zM1183 285h14v1h-14zM1352 285h3v1h-3zM1416 285h1v1h-1zM1435 285h1v1h-1zM237 286h1v1h-1zM259 286h1v1h-1zM418 286h1v1h-1zM507 286h1v1h-1zM523 286h1v1h-1zM613 286h5v1h-5zM862 286h2v1h-2zM1129 286h4v1h-4zM1168 286h15v1h-15zM1350 286h2v1h-2zM1415 286h1v1h-1zM1434 286h1v1h-1zM238 287h1v1h-1zM260 287h1v1h-1zM418 287h1v1h-1zM507 287h1v1h-1zM524 287h1v1h-1zM618 287h5v1h-5zM860 287h2v1h-2zM1133 287h1v1h-1zM1153 287h15v1h-15zM1348 287h2v1h-2zM1414 287h1v1h-1zM1432 287h2v1h-2zM239 288h1v1h-1zM261 288h1v1h-1zM418 288h1v1h-1zM508 288h1v1h-1zM524 288h1v1h-1zM623 288h5v1h-5zM858 288h2v1h-2zM1138 288h15v1h-15zM1346 288h2v1h-2zM1413 288h1v1h-1zM1431 288h1v1h-1zM240 289h1v1h-1zM262 289h1v1h-1zM418 289h1v1h-1zM508 289h1v1h-1zM524 289h1v1h-1zM628 289h5v1h-5zM856 289h2v1h-2zM1124 289h14v1h-14zM1344 289h2v1h-2zM1412 289h1v1h-1zM1430 289h1v1h-1zM241 290h1v1h-1zM263 290h1v1h-1zM418 290h1v1h-1zM509 290h1v1h-1zM525 290h1v1h-1zM633 290h5v1h-5zM854 290h2v1h-2zM1109 290h15v1h-15zM1342 290h2v1h-2zM1411 290h1v1h-1zM1429 290h1v1h-1zM242 291h1v1h-1zM264 291h1v1h-1zM418 291h1v1h-1zM509 291h1v1h-1zM525 291h1v1h-1zM638 291h5v1h-5zM852 291h2v1h-2zM1094 291h15v1h-15zM1340 291h2v1h-2zM1410 291h1v1h-1zM1428 291h1v1h-1zM243 292h1v1h-1zM264 292h1v1h-1zM418 292h1v1h-1zM510 292h1v1h-1zM525 292h1v1h-1zM643 292h5v1h-5zM850 292h2v1h-2zM1080 292h14v1h-14zM1338 292h2v1h-2zM1409 292h1v1h-1zM1427 292h1v1h-1zM244 293h1v1h-1zM265 293h1v1h-1zM419 293h1v1h-1zM510 293h1v1h-1zM526 293h1v1h-1zM648 293h5v1h-5zM848 293h2v1h-2zM1065 293h15v1h-15zM1336 293h2v1h-2zM1409 293h1v1h-1zM1425 293h2v1h-2zM245 294h1v1h-1zM266 294h1v1h-1zM419 294h1v1h-1zM511 294h1v1h-1zM526 294h1v1h-1zM653 294h5v1h-5zM846 294h2v1h-2zM1050 294h15v1h-15zM1334 294h2v1h-2zM1408 294h1v1h-1zM1424 294h1v1h-1zM246 295h1v1h-1zM267 295h1v1h-1zM419 295h1v1h-1zM511 295h1v1h-1zM526 295h1v1h-1zM658 295h5v1h-5zM844 295h2v1h-2zM1035 295h15v1h-15zM1332 295h2v1h-2zM1407 295h1v1h-1zM1423 295h1v1h-1zM247 296h1v1h-1zM268 296h1v1h-1zM419 296h1v1h-1zM512 296h1v1h-1zM527 296h1v1h-1zM663 296h5v1h-5zM842 296h2v1h-2zM1021 296h14v1h-14zM1330 296h2v1h-2zM1406 296h1v1h-1zM1422 296h1v1h-1zM248 297h1v1h-1zM269 297h1v1h-1zM419 297h1v1h-1zM512 297h1v1h-1zM527 297h1v1h-1zM668 297h5v1h-5zM839 297h3v1h-3zM1006 297h15v1h-15zM1327 297h3v1h-3zM1405 297h1v1h-1zM1421 297h1v1h-1zM249 298h1v1h-1zM270 298h1v1h-1zM419 298h1v1h-1zM513 298h1v1h-1zM527 298h1v1h-1zM673 298h5v1h-5zM837 298h2v1h-2zM991 298h15v1h-15zM1325 298h2v1h-2zM1404 298h1v1h-1zM1419 298h2v1h-2zM250 299h1v1h-1zM271 299h1v1h-1zM419 299h1v1h-1zM513 299h1v1h-1zM528 299h1v1h-1zM678 299h5v1h-5zM835 299h2v1h-2zM977 299h14v1h-14zM1323 299h2v1h-2zM1403 299h1v1h-1zM1418 299h1v1h-1zM251 300h1v1h-1zM272 300h1v1h-1zM419 300h1v1h-1zM514 300h1v1h-1zM528 300h1v1h-1zM683 300h5v1h-5zM833 300h2v1h-2zM962 300h15v1h-15zM1321 300h2v1h-2zM1402 300h1v1h-1zM1417 300h1v1h-1zM252 301h1v1h-1zM272 301h1v1h-1zM420 301h1v1h-1zM514 301h1v1h-1zM528 301h1v1h-1zM688 301h5v1h-5zM831 301h2v1h-2zM947 301h15v1h-15zM1319 301h2v1h-2zM1401 301h1v1h-1zM1416 301h1v1h-1zM253 302h1v1h-1zM273 302h1v1h-1zM420 302h1v1h-1zM515 302h1v1h-1zM529 302h1v1h-1zM693 302h5v1h-5zM829 302h2v1h-2zM933 302h14v1h-14zM1317 302h2v1h-2zM1400 302h1v1h-1zM1415 302h1v1h-1zM254 303h1v1h-1zM274 303h1v1h-1zM420 303h1v1h-1zM515 303h1v1h-1zM529 303h1v1h-1zM698 303h5v1h-5zM827 303h2v1h-2zM918 303h15v1h-15zM1315 303h2v1h-2zM1399 303h1v1h-1zM1414 303h1v1h-1zM255 304h1v1h-1zM275 304h1v1h-1zM420 304h1v1h-1zM516 304h1v1h-1zM530 304h1v1h-1zM703 304h5v1h-5zM825 304h2v1h-2zM903 304h15v1h-15zM1313 304h2v1h-2zM1399 304h1v1h-1zM1412 304h2v1h-2zM256 305h1v1h-1zM276 305h1v1h-1zM420 305h1v1h-1zM516 305h1v1h-1zM530 305h1v1h-1zM708 305h5v1h-5zM823 305h2v1h-2zM888 305h15v1h-15zM1311 305h2v1h-2zM1398 305h1v1h-1zM1411 305h1v1h-1zM257 306h1v1h-1zM277 306h1v1h-1zM420 306h1v1h-1zM517 306h1v1h-1zM530 306h1v1h-1zM713 306h5v1h-5zM821 306h2v1h-2zM874 306h14v1h-14zM1309 306h2v1h-2zM1397 306h1v1h-1zM1410 306h1v1h-1zM258 307h1v1h-1zM278 307h1v1h-1zM420 307h1v1h-1zM517 307h1v1h-1zM531 307h1v1h-1zM718 307h5v1h-5zM819 307h2v1h-2zM859 307h15v1h-15zM1307 307h2v1h-2zM1396 307h1v1h-1zM1409 307h1v1h-1zM259 308h1v1h-1zM279 308h1v1h-1zM420 308h1v1h-1zM518 308h1v1h-1zM531 308h1v1h-1zM723 308h5v1h-5zM817 308h2v1h-2zM844 308h15v1h-15zM1305 308h2v1h-2zM1395 308h1v1h-1zM1408 308h1v1h-1zM260 309h1v1h-1zM279 309h1v1h-1zM421 309h1v1h-1zM518 309h1v1h-1zM531 309h1v1h-1zM728 309h5v1h-5zM814 309h3v1h-3zM830 309h14v1h-14zM1302 309h3v1h-3zM1394 309h1v1h-1zM1407 309h1v1h-1zM261 310h1v1h-1zM280 310h1v1h-1zM421 310h1v1h-1zM519 310h1v1h-1zM532 310h1v1h-1zM733 310h5v1h-5zM812 310h2v1h-2zM815 310h15v1h-15zM1300 310h2v1h-2zM1393 310h1v1h-1zM1405 310h2v1h-2zM262 311h1v1h-1zM281 311h1v1h-1zM421 311h1v1h-1zM519 311h1v1h-1zM532 311h1v1h-1zM738 311h6v1h-6zM800 311h15v1h-15zM1298 311h2v1h-2zM1392 311h1v1h-1zM1404 311h1v1h-1zM263 312h1v1h-1zM282 312h1v1h-1zM421 312h1v1h-1zM520 312h1v1h-1zM532 312h1v1h-1zM744 312h5v1h-5zM785 312h15v1h-15zM808 312h2v1h-2zM1296 312h2v1h-2zM1391 312h1v1h-1zM1403 312h1v1h-1zM264 313h1v1h-1zM283 313h1v1h-1zM421 313h1v1h-1zM520 313h1v1h-1zM533 313h1v1h-1zM749 313h5v1h-5zM771 313h14v1h-14zM806 313h2v1h-2zM1294 313h2v1h-2zM1390 313h1v1h-1zM1402 313h1v1h-1zM265 314h1v1h-1zM284 314h1v1h-1zM421 314h1v1h-1zM521 314h1v1h-1zM533 314h1v1h-1zM754 314h17v1h-17zM804 314h2v1h-2zM1292 314h2v1h-2zM1390 314h1v1h-1zM1401 314h1v1h-1zM266 315h2v1h-2zM285 315h1v1h-1zM421 315h1v1h-1zM521 315h1v1h-1zM533 315h1v1h-1zM741 315h15v1h-15zM759 315h5v1h-5zM802 315h2v1h-2zM1290 315h2v1h-2zM1389 315h1v1h-1zM1399 315h2v1h-2zM268 316h1v1h-1zM286 316h1v1h-1zM422 316h1v1h-1zM522 316h1v1h-1zM534 316h1v1h-1zM727 316h14v1h-14zM764 316h5v1h-5zM800 316h2v1h-2zM1288 316h2v1h-2zM1388 316h1v1h-1zM1398 316h1v1h-1zM269 317h1v1h-1zM286 317h1v1h-1zM422 317h1v1h-1zM522 317h1v1h-1zM534 317h1v1h-1zM712 317h15v1h-15zM769 317h5v1h-5zM798 317h2v1h-2zM1286 317h2v1h-2zM1387 317h1v1h-1zM1397 317h1v1h-1zM270 318h1v1h-1zM287 318h1v1h-1zM422 318h1v1h-1zM523 318h1v1h-1zM534 318h1v1h-1zM697 318h15v1h-15zM774 318h5v1h-5zM796 318h2v1h-2zM1284 318h2v1h-2zM1386 318h1v1h-1zM1396 318h1v1h-1zM271 319h1v1h-1zM288 319h1v1h-1zM422 319h1v1h-1zM523 319h1v1h-1zM535 319h1v1h-1zM682 319h15v1h-15zM779 319h5v1h-5zM794 319h2v1h-2zM1282 319h2v1h-2zM1385 319h1v1h-1zM1395 319h1v1h-1zM272 320h1v1h-1zM289 320h1v1h-1zM422 320h1v1h-1zM524 320h1v1h-1zM535 320h1v1h-1zM668 320h14v1h-14zM784 320h5v1h-5zM792 320h2v1h-2zM1280 320h2v1h-2zM1384 320h1v1h-1zM1394 320h1v1h-1zM273 321h1v1h-1zM290 321h1v1h-1zM422 321h1v1h-1zM524 321h1v1h-1zM535 321h1v1h-1zM653 321h15v1h-15zM706 321h2v1h-2zM789 321h5v1h-5zM1277 321h3v1h-3zM1383 321h1v1h-1zM1392 321h2v1h-2zM274 322h1v1h-1zM291 322h1v1h-1zM422 322h1v1h-1zM525 322h1v1h-1zM536 322h1v1h-1zM638 322h15v1h-15zM708 322h4v1h-4zM787 322h2v1h-2zM794 322h5v1h-5zM1275 322h2v1h-2zM1382 322h1v1h-1zM1391 322h1v1h-1zM275 323h1v1h-1zM292 323h1v1h-1zM422 323h1v1h-1zM526 323h1v1h-1zM536 323h1v1h-1zM624 323h14v1h-14zM712 323h4v1h-4zM785 323h2v1h-2zM799 323h5v1h-5zM1273 323h2v1h-2zM1381 323h1v1h-1zM1390 323h1v1h-1zM276 324h1v1h-1zM293 324h1v1h-1zM423 324h1v1h-1zM526 324h1v1h-1zM537 324h1v1h-1zM609 324h15v1h-15zM716 324h4v1h-4zM783 324h2v1h-2zM804 324h5v1h-5zM1271 324h2v1h-2zM1380 324h1v1h-1zM1389 324h1v1h-1zM277 325h1v1h-1zM293 325h1v1h-1zM423 325h1v1h-1zM527 325h1v1h-1zM537 325h1v1h-1zM594 325h15v1h-15zM720 325h4v1h-4zM781 325h2v1h-2zM809 325h5v1h-5zM1269 325h2v1h-2zM1380 325h1v1h-1zM1388 325h1v1h-1zM278 326h1v1h-1zM294 326h1v1h-1zM423 326h1v1h-1zM527 326h1v1h-1zM537 326h1v1h-1zM580 326h14v1h-14zM724 326h4v1h-4zM779 326h2v1h-2zM814 326h5v1h-5zM1267 326h2v1h-2zM1379 326h1v1h-1zM1387 326h1v1h-1zM279 327h1v1h-1zM295 327h1v1h-1zM423 327h1v1h-1zM528 327h1v1h-1zM538 327h1v1h-1zM565 327h15v1h-15zM728 327h4v1h-4zM777 327h2v1h-2zM819 327h5v1h-5zM1265 327h2v1h-2zM1378 327h1v1h-1zM1385 327h2v1h-2zM280 328h1v1h-1zM296 328h1v1h-1zM423 328h1v1h-1zM528 328h1v1h-1zM538 328h1v1h-1zM550 328h15v1h-15zM732 328h4v1h-4zM775 328h2v1h-2zM824 328h5v1h-5zM1263 328h2v1h-2zM1377 328h1v1h-1zM1384 328h1v1h-1zM281 329h1v1h-1zM297 329h1v1h-1zM423 329h1v1h-1zM529 329h1v1h-1zM535 329h15v1h-15zM736 329h4v1h-4zM773 329h2v1h-2zM829 329h5v1h-5zM1261 329h2v1h-2zM1376 329h1v1h-1zM1383 329h1v1h-1zM282 330h1v1h-1zM298 330h1v1h-1zM423 330h1v1h-1zM521 330h14v1h-14zM539 330h1v1h-1zM740 330h4v1h-4zM771 330h2v1h-2zM834 330h5v1h-5zM1259 330h2v1h-2zM1375 330h1v1h-1zM1382 330h1v1h-1zM283 331h1v1h-1zM299 331h1v1h-1zM423 331h1v1h-1zM506 331h15v1h-15zM530 331h1v1h-1zM539 331h1v1h-1zM744 331h4v1h-4zM769 331h2v1h-2zM839 331h5v1h-5zM1257 331h2v1h-2zM1374 331h1v1h-1zM1381 331h1v1h-1zM284 332h1v1h-1zM300 332h1v1h-1zM424 332h1v1h-1zM491 332h15v1h-15zM530 332h1v1h-1zM539 332h1v1h-1zM748 332h4v1h-4zM767 332h2v1h-2zM844 332h5v1h-5zM1255 332h2v1h-2zM1373 332h1v1h-1zM1379 332h2v1h-2zM285 333h1v1h-1zM300 333h1v1h-1zM424 333h1v1h-1zM477 333h14v1h-14zM531 333h1v1h-1zM540 333h1v1h-1zM752 333h4v1h-4zM764 333h3v1h-3zM849 333h5v1h-5zM1252 333h3v1h-3zM1372 333h1v1h-1zM1378 333h1v1h-1zM286 334h1v1h-1zM301 334h1v1h-1zM424 334h1v1h-1zM462 334h15v1h-15zM531 334h1v1h-1zM540 334h1v1h-1zM756 334h4v1h-4zM762 334h2v1h-2zM854 334h5v1h-5zM1250 334h2v1h-2zM1371 334h1v1h-1zM1377 334h1v1h-1zM287 335h1v1h-1zM302 335h1v1h-1zM424 335h1v1h-1zM447 335h15v1h-15zM532 335h1v1h-1zM540 335h1v1h-1zM760 335h4v1h-4zM859 335h5v1h-5zM1248 335h2v1h-2zM1370 335h1v1h-1zM1376 335h1v1h-1zM288 336h1v1h-1zM303 336h1v1h-1zM424 336h1v1h-1zM432 336h15v1h-15zM532 336h1v1h-1zM541 336h1v1h-1zM758 336h2v1h-2zM764 336h4v1h-4zM864 336h5v1h-5zM1246 336h2v1h-2zM1370 336h1v1h-1zM1375 336h1v1h-1zM289 337h1v1h-1zM304 337h1v1h-1zM418 337h14v1h-14zM533 337h1v1h-1zM541 337h1v1h-1zM756 337h2v1h-2zM768 337h4v1h-4zM869 337h5v1h-5zM1244 337h2v1h-2zM1369 337h1v1h-1zM1374 337h1v1h-1zM290 338h1v1h-1zM305 338h1v1h-1zM403 338h15v1h-15zM424 338h1v1h-1zM533 338h1v1h-1zM541 338h1v1h-1zM754 338h2v1h-2zM772 338h4v1h-4zM874 338h6v1h-6zM1242 338h2v1h-2zM1368 338h1v1h-1zM1372 338h2v1h-2zM291 339h1v1h-1zM306 339h1v1h-1zM388 339h15v1h-15zM424 339h1v1h-1zM534 339h1v1h-1zM542 339h1v1h-1zM752 339h2v1h-2zM776 339h4v1h-4zM880 339h5v1h-5zM1240 339h2v1h-2zM1367 339h1v1h-1zM1371 339h1v1h-1zM292 340h1v1h-1zM307 340h1v1h-1zM374 340h14v1h-14zM425 340h1v1h-1zM534 340h1v1h-1zM542 340h1v1h-1zM750 340h2v1h-2zM780 340h4v1h-4zM885 340h5v1h-5zM1238 340h2v1h-2zM1366 340h1v1h-1zM1370 340h1v1h-1zM293 341h1v1h-1zM307 341h1v1h-1zM359 341h15v1h-15zM425 341h1v1h-1zM535 341h1v1h-1zM543 341h1v1h-1zM748 341h2v1h-2zM784 341h4v1h-4zM890 341h5v1h-5zM1236 341h2v1h-2zM1365 341h1v1h-1zM1369 341h1v1h-1zM294 342h1v1h-1zM308 342h1v1h-1zM344 342h15v1h-15zM425 342h1v1h-1zM535 342h1v1h-1zM543 342h1v1h-1zM746 342h2v1h-2zM788 342h4v1h-4zM895 342h5v1h-5zM1234 342h2v1h-2zM1364 342h1v1h-1zM1368 342h1v1h-1zM295 343h1v1h-1zM309 343h1v1h-1zM330 343h14v1h-14zM425 343h1v1h-1zM536 343h1v1h-1zM543 343h1v1h-1zM744 343h2v1h-2zM792 343h4v1h-4zM900 343h5v1h-5zM1232 343h2v1h-2zM1363 343h1v1h-1zM1366 343h2v1h-2zM296 344h1v1h-1zM310 344h1v1h-1zM315 344h15v1h-15zM425 344h1v1h-1zM536 344h1v1h-1zM544 344h1v1h-1zM742 344h2v1h-2zM796 344h4v1h-4zM905 344h5v1h-5zM1230 344h2v1h-2zM1362 344h1v1h-1zM1365 344h1v1h-1zM297 345h1v1h-1zM300 345h15v1h-15zM425 345h1v1h-1zM537 345h1v1h-1zM544 345h1v1h-1zM739 345h3v1h-3zM800 345h4v1h-4zM910 345h5v1h-5zM1227 345h3v1h-3zM1361 345h1v1h-1zM1364 345h1v1h-1zM285 346h15v1h-15zM312 346h1v1h-1zM425 346h1v1h-1zM537 346h1v1h-1zM544 346h1v1h-1zM737 346h2v1h-2zM804 346h4v1h-4zM915 346h5v1h-5zM1225 346h2v1h-2zM1360 346h1v1h-1zM1363 346h1v1h-1zM271 347h14v1h-14zM299 347h1v1h-1zM313 347h1v1h-1zM426 347h1v1h-1zM538 347h1v1h-1zM545 347h1v1h-1zM735 347h2v1h-2zM808 347h4v1h-4zM920 347h5v1h-5zM1223 347h2v1h-2zM1360 347h1v1h-1zM1362 347h1v1h-1zM256 348h15v1h-15zM300 348h1v1h-1zM314 348h1v1h-1zM426 348h1v1h-1zM538 348h1v1h-1zM545 348h1v1h-1zM733 348h2v1h-2zM812 348h4v1h-4zM925 348h5v1h-5zM1221 348h2v1h-2zM1359 348h1v1h-1zM1361 348h1v1h-1zM241 349h15v1h-15zM301 349h1v1h-1zM314 349h1v1h-1zM426 349h1v1h-1zM539 349h1v1h-1zM545 349h1v1h-1zM731 349h2v1h-2zM816 349h4v1h-4zM930 349h5v1h-5zM1219 349h2v1h-2zM1358 349h3v1h-3zM227 350h14v1h-14zM302 350h1v1h-1zM315 350h1v1h-1zM426 350h1v1h-1zM539 350h1v1h-1zM546 350h1v1h-1zM729 350h2v1h-2zM820 350h4v1h-4zM935 350h5v1h-5zM1217 350h2v1h-2zM1357 350h2v1h-2zM212 351h15v1h-15zM303 351h1v1h-1zM316 351h1v1h-1zM426 351h1v1h-1zM540 351h1v1h-1zM546 351h1v1h-1zM727 351h2v1h-2zM824 351h4v1h-4zM940 351h5v1h-5zM1215 351h2v1h-2zM1356 351h2v1h-2zM197 352h15v1h-15zM304 352h1v1h-1zM317 352h1v1h-1zM426 352h1v1h-1zM540 352h1v1h-1zM546 352h1v1h-1zM725 352h2v1h-2zM828 352h4v1h-4zM945 352h5v1h-5zM1213 352h2v1h-2zM1355 352h2v1h-2zM190 353h7v1h-7zM305 353h1v1h-1zM318 353h1v1h-1zM426 353h1v1h-1zM541 353h1v1h-1zM547 353h1v1h-1zM723 353h2v1h-2zM832 353h4v1h-4zM950 353h5v1h-5zM1211 353h2v1h-2zM1354 353h2v1h-2zM306 354h1v1h-1zM319 354h1v1h-1zM426 354h1v1h-1zM541 354h1v1h-1zM547 354h1v1h-1zM721 354h2v1h-2zM836 354h4v1h-4zM955 354h5v1h-5zM1209 354h2v1h-2zM1353 354h2v1h-2zM307 355h1v1h-1zM320 355h1v1h-1zM427 355h1v1h-1zM542 355h1v1h-1zM547 355h1v1h-1zM719 355h2v1h-2zM840 355h4v1h-4zM960 355h5v1h-5zM1207 355h2v1h-2zM1352 355h2v1h-2zM1400 355h1v1h-1zM308 356h1v1h-1zM321 356h1v1h-1zM427 356h1v1h-1zM542 356h1v1h-1zM548 356h1v1h-1zM717 356h2v1h-2zM844 356h4v1h-4zM965 356h5v1h-5zM1205 356h2v1h-2zM1351 356h1v1h-1zM1398 356h2v1h-2zM309 357h1v1h-1zM321 357h1v1h-1zM427 357h1v1h-1zM543 357h1v1h-1zM548 357h1v1h-1zM714 357h3v1h-3zM848 357h4v1h-4zM970 357h5v1h-5zM1202 357h3v1h-3zM1350 357h1v1h-1zM1397 357h1v1h-1zM310 358h1v1h-1zM322 358h1v1h-1zM427 358h1v1h-1zM543 358h1v1h-1zM548 358h1v1h-1zM712 358h2v1h-2zM852 358h4v1h-4zM975 358h5v1h-5zM1200 358h2v1h-2zM1349 358h2v1h-2zM1396 358h1v1h-1zM311 359h1v1h-1zM323 359h1v1h-1zM427 359h1v1h-1zM544 359h1v1h-1zM549 359h1v1h-1zM710 359h2v1h-2zM856 359h3v1h-3zM980 359h5v1h-5zM1198 359h2v1h-2zM1348 359h2v1h-2zM1394 359h2v1h-2zM312 360h1v1h-1zM324 360h1v1h-1zM427 360h1v1h-1zM545 360h1v1h-1zM549 360h1v1h-1zM708 360h2v1h-2zM859 360h4v1h-4zM985 360h5v1h-5zM1196 360h2v1h-2zM1346 360h3v1h-3zM1393 360h1v1h-1zM313 361h1v1h-1zM325 361h1v1h-1zM427 361h1v1h-1zM545 361h1v1h-1zM550 361h1v1h-1zM706 361h2v1h-2zM863 361h4v1h-4zM990 361h5v1h-5zM1194 361h2v1h-2zM1345 361h1v1h-1zM1347 361h1v1h-1zM1392 361h1v1h-1zM314 362h1v1h-1zM326 362h1v1h-1zM427 362h1v1h-1zM546 362h1v1h-1zM550 362h1v1h-1zM704 362h2v1h-2zM867 362h4v1h-4zM995 362h5v1h-5zM1192 362h2v1h-2zM1344 362h1v1h-1zM1346 362h1v1h-1zM1390 362h2v1h-2zM315 363h1v1h-1zM327 363h1v1h-1zM428 363h1v1h-1zM546 363h1v1h-1zM550 363h1v1h-1zM702 363h2v1h-2zM871 363h4v1h-4zM1000 363h5v1h-5zM1190 363h2v1h-2zM1343 363h1v1h-1zM1345 363h1v1h-1zM1359 363h2v1h-2zM1389 363h1v1h-1zM316 364h1v1h-1zM328 364h1v1h-1zM428 364h1v1h-1zM547 364h1v1h-1zM551 364h1v1h-1zM700 364h2v1h-2zM875 364h4v1h-4zM1005 364h5v1h-5zM1188 364h2v1h-2zM1342 364h1v1h-1zM1344 364h1v1h-1zM1357 364h2v1h-2zM1388 364h1v1h-1zM317 365h1v1h-1zM328 365h1v1h-1zM428 365h1v1h-1zM547 365h1v1h-1zM551 365h1v1h-1zM698 365h2v1h-2zM879 365h4v1h-4zM1010 365h6v1h-6zM1186 365h2v1h-2zM1341 365h1v1h-1zM1343 365h1v1h-1zM1355 365h2v1h-2zM1386 365h2v1h-2zM318 366h1v1h-1zM329 366h1v1h-1zM428 366h1v1h-1zM548 366h1v1h-1zM551 366h1v1h-1zM696 366h2v1h-2zM883 366h4v1h-4zM1016 366h5v1h-5zM1184 366h2v1h-2zM1339 366h2v1h-2zM1342 366h1v1h-1zM1353 366h2v1h-2zM1385 366h1v1h-1zM319 367h1v1h-1zM330 367h1v1h-1zM428 367h1v1h-1zM548 367h1v1h-1zM552 367h1v1h-1zM694 367h2v1h-2zM887 367h4v1h-4zM1021 367h5v1h-5zM1182 367h2v1h-2zM1338 367h1v1h-1zM1341 367h1v1h-1zM1351 367h2v1h-2zM1384 367h1v1h-1zM320 368h1v1h-1zM331 368h1v1h-1zM428 368h1v1h-1zM549 368h1v1h-1zM552 368h1v1h-1zM692 368h2v1h-2zM891 368h4v1h-4zM1026 368h5v1h-5zM1180 368h2v1h-2zM1337 368h1v1h-1zM1340 368h1v1h-1zM1349 368h2v1h-2zM1382 368h2v1h-2zM321 369h1v1h-1zM332 369h1v1h-1zM428 369h1v1h-1zM549 369h1v1h-1zM552 369h1v1h-1zM689 369h3v1h-3zM895 369h4v1h-4zM1031 369h5v1h-5zM1177 369h3v1h-3zM1336 369h1v1h-1zM1340 369h1v1h-1zM1347 369h2v1h-2zM1381 369h1v1h-1zM322 370h1v1h-1zM333 370h1v1h-1zM428 370h1v1h-1zM550 370h1v1h-1zM553 370h1v1h-1zM687 370h2v1h-2zM899 370h4v1h-4zM1036 370h5v1h-5zM1175 370h2v1h-2zM1335 370h1v1h-1zM1339 370h1v1h-1zM1345 370h2v1h-2zM1379 370h2v1h-2zM323 371h1v1h-1zM334 371h1v1h-1zM429 371h1v1h-1zM550 371h1v1h-1zM553 371h1v1h-1zM685 371h2v1h-2zM903 371h4v1h-4zM1041 371h5v1h-5zM1173 371h2v1h-2zM1334 371h1v1h-1zM1338 371h1v1h-1zM1343 371h2v1h-2zM1378 371h1v1h-1zM324 372h1v1h-1zM335 372h1v1h-1zM429 372h1v1h-1zM551 372h1v1h-1zM553 372h1v1h-1zM683 372h2v1h-2zM907 372h4v1h-4zM1046 372h5v1h-5zM1171 372h2v1h-2zM1332 372h2v1h-2zM1337 372h1v1h-1zM1341 372h2v1h-2zM1377 372h1v1h-1zM325 373h1v1h-1zM335 373h1v1h-1zM429 373h1v1h-1zM551 373h1v1h-1zM554 373h1v1h-1zM681 373h2v1h-2zM911 373h4v1h-4zM1051 373h5v1h-5zM1169 373h2v1h-2zM1331 373h1v1h-1zM1336 373h1v1h-1zM1339 373h2v1h-2zM1375 373h2v1h-2zM326 374h1v1h-1zM336 374h1v1h-1zM429 374h1v1h-1zM552 374h1v1h-1zM554 374h1v1h-1zM679 374h2v1h-2zM915 374h4v1h-4zM1056 374h5v1h-5zM1167 374h2v1h-2zM1330 374h1v1h-1zM1335 374h1v1h-1zM1337 374h2v1h-2zM1374 374h1v1h-1zM327 375h1v1h-1zM337 375h1v1h-1zM429 375h1v1h-1zM552 375h1v1h-1zM554 375h1v1h-1zM677 375h2v1h-2zM919 375h4v1h-4zM1061 375h5v1h-5zM1165 375h2v1h-2zM1329 375h1v1h-1zM1334 375h3v1h-3zM1373 375h1v1h-1zM328 376h1v1h-1zM338 376h1v1h-1zM429 376h1v1h-1zM553 376h1v1h-1zM555 376h1v1h-1zM675 376h2v1h-2zM923 376h4v1h-4zM1066 376h5v1h-5zM1163 376h2v1h-2zM1328 376h1v1h-1zM1333 376h2v1h-2zM1371 376h2v1h-2zM1406 376h2v1h-2zM329 377h1v1h-1zM339 377h1v1h-1zM429 377h1v1h-1zM553 377h1v1h-1zM555 377h1v1h-1zM673 377h2v1h-2zM927 377h4v1h-4zM1071 377h5v1h-5zM1161 377h2v1h-2zM1326 377h2v1h-2zM1330 377h3v1h-3zM1370 377h1v1h-1zM1404 377h2v1h-2zM330 378h1v1h-1zM340 378h1v1h-1zM430 378h1v1h-1zM554 378h2v1h-2zM671 378h2v1h-2zM931 378h4v1h-4zM1076 378h5v1h-5zM1159 378h2v1h-2zM1325 378h1v1h-1zM1328 378h2v1h-2zM1331 378h1v1h-1zM1369 378h1v1h-1zM1402 378h2v1h-2zM331 379h1v1h-1zM341 379h1v1h-1zM430 379h1v1h-1zM554 379h1v1h-1zM556 379h1v1h-1zM669 379h2v1h-2zM935 379h4v1h-4zM1081 379h5v1h-5zM1157 379h2v1h-2zM1324 379h1v1h-1zM1326 379h2v1h-2zM1330 379h1v1h-1zM1367 379h2v1h-2zM1400 379h2v1h-2zM332 380h1v1h-1zM342 380h1v1h-1zM430 380h1v1h-1zM555 380h2v1h-2zM667 380h2v1h-2zM939 380h4v1h-4zM1086 380h5v1h-5zM1155 380h2v1h-2zM1323 380h3v1h-3zM1330 380h1v1h-1zM1366 380h1v1h-1zM1398 380h2v1h-2zM333 381h1v1h-1zM342 381h1v1h-1zM430 381h1v1h-1zM555 381h1v1h-1zM557 381h1v1h-1zM664 381h3v1h-3zM943 381h4v1h-4zM1091 381h5v1h-5zM1152 381h3v1h-3zM1322 381h2v1h-2zM1329 381h1v1h-1zM1365 381h1v1h-1zM1396 381h2v1h-2zM334 382h1v1h-1zM343 382h1v1h-1zM430 382h1v1h-1zM556 382h2v1h-2zM662 382h2v1h-2zM947 382h4v1h-4zM1096 382h5v1h-5zM1150 382h2v1h-2zM1320 382h2v1h-2zM1328 382h1v1h-1zM1363 382h2v1h-2zM1394 382h2v1h-2zM335 383h1v1h-1zM344 383h1v1h-1zM430 383h1v1h-1zM556 383h2v1h-2zM660 383h2v1h-2zM951 383h4v1h-4zM1101 383h3v1h-3zM1148 383h2v1h-2zM1318 383h3v1h-3zM1327 383h1v1h-1zM1362 383h1v1h-1zM1393 383h1v1h-1zM336 384h1v1h-1zM345 384h1v1h-1zM430 384h1v1h-1zM557 384h2v1h-2zM658 384h2v1h-2zM955 384h4v1h-4zM1146 384h2v1h-2zM1316 384h3v1h-3zM1326 384h1v1h-1zM1361 384h1v1h-1zM1391 384h2v1h-2zM337 385h1v1h-1zM346 385h1v1h-1zM430 385h1v1h-1zM557 385h2v1h-2zM656 385h2v1h-2zM959 385h4v1h-4zM1144 385h2v1h-2zM1314 385h2v1h-2zM1317 385h1v1h-1zM1325 385h1v1h-1zM1359 385h2v1h-2zM1389 385h2v1h-2zM338 386h1v1h-1zM347 386h1v1h-1zM431 386h1v1h-1zM558 386h1v1h-1zM654 386h2v1h-2zM963 386h4v1h-4zM1142 386h2v1h-2zM1312 386h2v1h-2zM1316 386h1v1h-1zM1324 386h1v1h-1zM1358 386h1v1h-1zM1387 386h2v1h-2zM339 387h1v1h-1zM348 387h1v1h-1zM431 387h1v1h-1zM559 387h1v1h-1zM652 387h2v1h-2zM967 387h4v1h-4zM1140 387h2v1h-2zM1310 387h2v1h-2zM1315 387h1v1h-1zM1323 387h1v1h-1zM1356 387h2v1h-2zM1385 387h2v1h-2zM340 388h1v1h-1zM349 388h1v1h-1zM431 388h1v1h-1zM559 388h1v1h-1zM650 388h2v1h-2zM971 388h4v1h-4zM1138 388h2v1h-2zM1308 388h2v1h-2zM1313 388h2v1h-2zM1322 388h1v1h-1zM1355 388h1v1h-1zM1383 388h2v1h-2zM341 389h1v1h-1zM349 389h1v1h-1zM431 389h1v1h-1zM559 389h1v1h-1zM648 389h2v1h-2zM975 389h4v1h-4zM1136 389h2v1h-2zM1306 389h2v1h-2zM1312 389h1v1h-1zM1321 389h1v1h-1zM1354 389h1v1h-1zM1381 389h2v1h-2zM342 390h1v1h-1zM350 390h1v1h-1zM431 390h1v1h-1zM560 390h1v1h-1zM646 390h2v1h-2zM979 390h4v1h-4zM1134 390h2v1h-2zM1304 390h2v1h-2zM1311 390h1v1h-1zM1320 390h1v1h-1zM1352 390h2v1h-2zM1380 390h1v1h-1zM343 391h1v1h-1zM351 391h1v1h-1zM431 391h1v1h-1zM560 391h1v1h-1zM644 391h2v1h-2zM983 391h4v1h-4zM1132 391h2v1h-2zM1301 391h3v1h-3zM1310 391h1v1h-1zM1320 391h1v1h-1zM1351 391h1v1h-1zM1378 391h2v1h-2zM344 392h1v1h-1zM352 392h1v1h-1zM431 392h1v1h-1zM560 392h1v1h-1zM642 392h2v1h-2zM987 392h4v1h-4zM1130 392h2v1h-2zM1299 392h2v1h-2zM1309 392h1v1h-1zM1319 392h1v1h-1zM1350 392h1v1h-1zM1376 392h2v1h-2zM345 393h1v1h-1zM353 393h1v1h-1zM431 393h1v1h-1zM561 393h1v1h-1zM641 393h1v1h-1zM724 393h1v1h-1zM991 393h4v1h-4zM1127 393h3v1h-3zM1297 393h2v1h-2zM1308 393h1v1h-1zM1318 393h1v1h-1zM1348 393h2v1h-2zM1374 393h2v1h-2zM346 394h1v1h-1zM354 394h1v1h-1zM432 394h1v1h-1zM561 394h1v1h-1zM724 394h1v1h-1zM995 394h4v1h-4zM1125 394h2v1h-2zM1295 394h2v1h-2zM1306 394h2v1h-2zM1317 394h1v1h-1zM1347 394h1v1h-1zM1372 394h2v1h-2zM347 395h1v1h-1zM355 395h1v1h-1zM432 395h1v1h-1zM561 395h1v1h-1zM724 395h1v1h-1zM999 395h4v1h-4zM1123 395h2v1h-2zM1293 395h2v1h-2zM1305 395h1v1h-1zM1316 395h1v1h-1zM1346 395h1v1h-1zM1370 395h2v1h-2zM348 396h1v1h-1zM356 396h1v1h-1zM432 396h1v1h-1zM562 396h1v1h-1zM724 396h1v1h-1zM1003 396h4v1h-4zM1121 396h2v1h-2zM1291 396h2v1h-2zM1304 396h1v1h-1zM1315 396h1v1h-1zM1344 396h2v1h-2zM1368 396h2v1h-2zM349 397h1v1h-1zM356 397h1v1h-1zM432 397h1v1h-1zM562 397h1v1h-1zM724 397h1v1h-1zM1007 397h4v1h-4zM1119 397h2v1h-2zM1289 397h2v1h-2zM1303 397h1v1h-1zM1314 397h1v1h-1zM1343 397h1v1h-1zM1366 397h2v1h-2zM350 398h1v1h-1zM357 398h1v1h-1zM432 398h1v1h-1zM563 398h1v1h-1zM724 398h1v1h-1zM1011 398h4v1h-4zM1117 398h2v1h-2zM1287 398h2v1h-2zM1302 398h1v1h-1zM1313 398h1v1h-1zM1342 398h1v1h-1zM1365 398h1v1h-1zM351 399h1v1h-1zM358 399h1v1h-1zM432 399h1v1h-1zM563 399h1v1h-1zM724 399h1v1h-1zM1015 399h4v1h-4zM1115 399h2v1h-2zM1285 399h2v1h-2zM1301 399h1v1h-1zM1312 399h1v1h-1zM1340 399h2v1h-2zM1363 399h2v1h-2zM352 400h1v1h-1zM359 400h1v1h-1zM432 400h1v1h-1zM563 400h1v1h-1zM724 400h1v1h-1zM1019 400h4v1h-4zM1113 400h2v1h-2zM1283 400h2v1h-2zM1299 400h2v1h-2zM1311 400h1v1h-1zM1339 400h1v1h-1zM1361 400h2v1h-2zM353 401h1v1h-1zM360 401h1v1h-1zM432 401h1v1h-1zM564 401h1v1h-1zM724 401h1v1h-1zM1023 401h4v1h-4zM1111 401h2v1h-2zM1281 401h2v1h-2zM1298 401h1v1h-1zM1310 401h1v1h-1zM1337 401h2v1h-2zM1359 401h2v1h-2zM354 402h1v1h-1zM361 402h1v1h-1zM433 402h1v1h-1zM564 402h1v1h-1zM724 402h1v1h-1zM1027 402h4v1h-4zM1109 402h2v1h-2zM1279 402h2v1h-2zM1297 402h1v1h-1zM1310 402h1v1h-1zM1336 402h1v1h-1zM1357 402h2v1h-2zM355 403h1v1h-1zM362 403h1v1h-1zM433 403h1v1h-1zM564 403h1v1h-1zM724 403h1v1h-1zM1031 403h4v1h-4zM1107 403h2v1h-2zM1277 403h2v1h-2zM1296 403h1v1h-1zM1309 403h1v1h-1zM1335 403h1v1h-1zM1355 403h2v1h-2zM356 404h1v1h-1zM363 404h1v1h-1zM433 404h1v1h-1zM565 404h1v1h-1zM724 404h1v1h-1zM1035 404h4v1h-4zM1105 404h2v1h-2zM1275 404h2v1h-2zM1295 404h1v1h-1zM1308 404h1v1h-1zM1333 404h2v1h-2zM1353 404h2v1h-2zM357 405h1v1h-1zM363 405h1v1h-1zM433 405h1v1h-1zM565 405h1v1h-1zM724 405h1v1h-1zM1039 405h4v1h-4zM1102 405h3v1h-3zM1272 405h3v1h-3zM1293 405h2v1h-2zM1307 405h1v1h-1zM1332 405h1v1h-1zM1351 405h2v1h-2zM358 406h2v1h-2zM364 406h1v1h-1zM433 406h1v1h-1zM565 406h1v1h-1zM724 406h1v1h-1zM1043 406h4v1h-4zM1100 406h2v1h-2zM1270 406h2v1h-2zM1292 406h1v1h-1zM1306 406h1v1h-1zM1331 406h1v1h-1zM1350 406h1v1h-1zM360 407h1v1h-1zM365 407h1v1h-1zM433 407h1v1h-1zM566 407h1v1h-1zM724 407h1v1h-1zM1047 407h4v1h-4zM1098 407h2v1h-2zM1268 407h2v1h-2zM1291 407h1v1h-1zM1305 407h1v1h-1zM1329 407h2v1h-2zM1348 407h2v1h-2zM361 408h1v1h-1zM366 408h1v1h-1zM433 408h1v1h-1zM566 408h1v1h-1zM724 408h1v1h-1zM1051 408h4v1h-4zM1096 408h2v1h-2zM1266 408h2v1h-2zM1290 408h1v1h-1zM1304 408h1v1h-1zM1328 408h1v1h-1zM1346 408h2v1h-2zM362 409h1v1h-1zM367 409h1v1h-1zM434 409h1v1h-1zM566 409h1v1h-1zM724 409h1v1h-1zM1055 409h4v1h-4zM1094 409h2v1h-2zM1264 409h2v1h-2zM1289 409h1v1h-1zM1303 409h1v1h-1zM1327 409h1v1h-1zM1344 409h2v1h-2zM363 410h1v1h-1zM368 410h1v1h-1zM434 410h1v1h-1zM567 410h1v1h-1zM724 410h1v1h-1zM1059 410h4v1h-4zM1092 410h2v1h-2zM1262 410h2v1h-2zM1288 410h1v1h-1zM1302 410h1v1h-1zM1325 410h2v1h-2zM1342 410h2v1h-2zM364 411h1v1h-1zM369 411h1v1h-1zM434 411h1v1h-1zM567 411h1v1h-1zM724 411h1v1h-1zM1063 411h4v1h-4zM1090 411h2v1h-2zM1260 411h2v1h-2zM1286 411h2v1h-2zM1301 411h1v1h-1zM1324 411h1v1h-1zM1340 411h2v1h-2zM365 412h1v1h-1zM370 412h1v1h-1zM434 412h1v1h-1zM567 412h1v1h-1zM724 412h1v1h-1zM1067 412h4v1h-4zM1088 412h2v1h-2zM1258 412h2v1h-2zM1285 412h1v1h-1zM1301 412h1v1h-1zM1323 412h1v1h-1zM1338 412h2v1h-2zM366 413h1v1h-1zM370 413h1v1h-1zM434 413h1v1h-1zM568 413h1v1h-1zM724 413h1v1h-1zM1071 413h4v1h-4zM1086 413h2v1h-2zM1256 413h2v1h-2zM1284 413h1v1h-1zM1300 413h1v1h-1zM1321 413h2v1h-2zM1337 413h1v1h-1zM367 414h1v1h-1zM371 414h1v1h-1zM434 414h1v1h-1zM568 414h1v1h-1zM724 414h1v1h-1zM1075 414h4v1h-4zM1084 414h2v1h-2zM1254 414h2v1h-2zM1283 414h1v1h-1zM1299 414h1v1h-1zM1320 414h1v1h-1zM1335 414h2v1h-2zM368 415h1v1h-1zM372 415h1v1h-1zM434 415h1v1h-1zM568 415h1v1h-1zM724 415h1v1h-1zM1079 415h5v1h-5zM1252 415h2v1h-2zM1282 415h1v1h-1zM1298 415h1v1h-1zM1318 415h2v1h-2zM1333 415h2v1h-2zM325 416h2v1h-2zM369 416h1v1h-1zM373 416h1v1h-1zM434 416h1v1h-1zM569 416h1v1h-1zM724 416h1v1h-1zM1080 416h2v1h-2zM1083 416h4v1h-4zM1250 416h2v1h-2zM1280 416h2v1h-2zM1297 416h1v1h-1zM1317 416h1v1h-1zM1331 416h2v1h-2zM327 417h1v1h-1zM370 417h1v1h-1zM374 417h1v1h-1zM435 417h1v1h-1zM569 417h1v1h-1zM724 417h1v1h-1zM1077 417h3v1h-3zM1087 417h4v1h-4zM1248 417h2v1h-2zM1279 417h1v1h-1zM1296 417h1v1h-1zM1316 417h1v1h-1zM1329 417h2v1h-2zM328 418h1v1h-1zM371 418h1v1h-1zM375 418h1v1h-1zM435 418h1v1h-1zM570 418h1v1h-1zM724 418h1v1h-1zM1075 418h2v1h-2zM1091 418h4v1h-4zM1245 418h3v1h-3zM1278 418h1v1h-1zM1295 418h1v1h-1zM1314 418h2v1h-2zM1327 418h2v1h-2zM329 419h2v1h-2zM372 419h1v1h-1zM376 419h1v1h-1zM435 419h1v1h-1zM570 419h1v1h-1zM724 419h1v1h-1zM1073 419h2v1h-2zM1095 419h4v1h-4zM1243 419h2v1h-2zM1277 419h1v1h-1zM1294 419h1v1h-1zM1313 419h1v1h-1zM1325 419h2v1h-2zM331 420h1v1h-1zM373 420h1v1h-1zM377 420h1v1h-1zM435 420h1v1h-1zM570 420h1v1h-1zM724 420h1v1h-1zM1071 420h2v1h-2zM1099 420h4v1h-4zM1241 420h2v1h-2zM1276 420h1v1h-1zM1293 420h1v1h-1zM1312 420h1v1h-1zM1323 420h2v1h-2zM332 421h1v1h-1zM374 421h1v1h-1zM378 421h1v1h-1zM435 421h1v1h-1zM571 421h1v1h-1zM724 421h1v1h-1zM1069 421h2v1h-2zM1103 421h4v1h-4zM1239 421h2v1h-2zM1275 421h1v1h-1zM1292 421h1v1h-1zM1310 421h2v1h-2zM1322 421h1v1h-1zM333 422h2v1h-2zM375 422h1v1h-1zM378 422h1v1h-1zM435 422h1v1h-1zM571 422h1v1h-1zM724 422h1v1h-1zM1067 422h2v1h-2zM1107 422h4v1h-4zM1237 422h2v1h-2zM1273 422h2v1h-2zM1291 422h1v1h-1zM1309 422h1v1h-1zM1320 422h2v1h-2zM335 423h1v1h-1zM376 423h1v1h-1zM379 423h1v1h-1zM435 423h1v1h-1zM571 423h1v1h-1zM724 423h1v1h-1zM1065 423h2v1h-2zM1111 423h4v1h-4zM1235 423h2v1h-2zM1272 423h1v1h-1zM1291 423h1v1h-1zM1308 423h1v1h-1zM1318 423h2v1h-2zM336 424h1v1h-1zM377 424h1v1h-1zM380 424h1v1h-1zM435 424h1v1h-1zM572 424h1v1h-1zM724 424h1v1h-1zM1063 424h2v1h-2zM1115 424h3v1h-3zM1233 424h2v1h-2zM1271 424h1v1h-1zM1290 424h1v1h-1zM1306 424h2v1h-2zM1316 424h2v1h-2zM337 425h2v1h-2zM378 425h1v1h-1zM381 425h1v1h-1zM436 425h1v1h-1zM572 425h1v1h-1zM724 425h1v1h-1zM1061 425h2v1h-2zM1118 425h4v1h-4zM1231 425h2v1h-2zM1270 425h1v1h-1zM1289 425h1v1h-1zM1305 425h1v1h-1zM1314 425h2v1h-2zM339 426h1v1h-1zM379 426h1v1h-1zM382 426h1v1h-1zM436 426h1v1h-1zM572 426h1v1h-1zM724 426h1v1h-1zM1059 426h2v1h-2zM1122 426h4v1h-4zM1229 426h2v1h-2zM1269 426h1v1h-1zM1288 426h1v1h-1zM1304 426h1v1h-1zM1312 426h2v1h-2zM340 427h2v1h-2zM380 427h1v1h-1zM383 427h1v1h-1zM436 427h1v1h-1zM573 427h1v1h-1zM724 427h1v1h-1zM1057 427h2v1h-2zM1126 427h4v1h-4zM1227 427h2v1h-2zM1268 427h1v1h-1zM1287 427h1v1h-1zM1302 427h2v1h-2zM1310 427h2v1h-2zM342 428h1v1h-1zM381 428h1v1h-1zM384 428h1v1h-1zM436 428h1v1h-1zM573 428h1v1h-1zM724 428h1v1h-1zM1055 428h2v1h-2zM1130 428h4v1h-4zM1225 428h2v1h-2zM1266 428h2v1h-2zM1286 428h1v1h-1zM1301 428h1v1h-1zM1308 428h2v1h-2zM343 429h1v1h-1zM382 429h1v1h-1zM385 429h1v1h-1zM436 429h1v1h-1zM573 429h1v1h-1zM724 429h1v1h-1zM1052 429h3v1h-3zM1134 429h4v1h-4zM1223 429h2v1h-2zM1265 429h1v1h-1zM1285 429h1v1h-1zM1300 429h1v1h-1zM1307 429h1v1h-1zM344 430h2v1h-2zM383 430h1v1h-1zM385 430h1v1h-1zM436 430h1v1h-1zM574 430h1v1h-1zM724 430h1v1h-1zM1050 430h2v1h-2zM1138 430h4v1h-4zM1221 430h2v1h-2zM1264 430h1v1h-1zM1284 430h1v1h-1zM1298 430h2v1h-2zM1305 430h2v1h-2zM346 431h1v1h-1zM384 431h1v1h-1zM386 431h1v1h-1zM436 431h1v1h-1zM574 431h1v1h-1zM724 431h1v1h-1zM1048 431h2v1h-2zM1142 431h4v1h-4zM1219 431h2v1h-2zM1263 431h1v1h-1zM1283 431h1v1h-1zM1297 431h1v1h-1zM1303 431h2v1h-2zM347 432h1v1h-1zM385 432h1v1h-1zM387 432h1v1h-1zM436 432h1v1h-1zM574 432h1v1h-1zM724 432h1v1h-1zM1046 432h2v1h-2zM1146 432h4v1h-4zM1216 432h3v1h-3zM1262 432h1v1h-1zM1282 432h1v1h-1zM1295 432h2v1h-2zM1301 432h2v1h-2zM348 433h2v1h-2zM386 433h1v1h-1zM388 433h1v1h-1zM437 433h1v1h-1zM575 433h1v1h-1zM724 433h1v1h-1zM1044 433h2v1h-2zM1150 433h4v1h-4zM1214 433h2v1h-2zM1260 433h2v1h-2zM1281 433h1v1h-1zM1294 433h1v1h-1zM1299 433h2v1h-2zM350 434h1v1h-1zM387 434h1v1h-1zM389 434h1v1h-1zM437 434h1v1h-1zM575 434h1v1h-1zM724 434h1v1h-1zM1042 434h2v1h-2zM1154 434h4v1h-4zM1212 434h2v1h-2zM1259 434h1v1h-1zM1281 434h1v1h-1zM1293 434h1v1h-1zM1297 434h2v1h-2zM351 435h1v1h-1zM388 435h1v1h-1zM390 435h1v1h-1zM437 435h1v1h-1zM575 435h1v1h-1zM724 435h1v1h-1zM1040 435h2v1h-2zM1158 435h4v1h-4zM1210 435h2v1h-2zM1258 435h1v1h-1zM1280 435h1v1h-1zM1291 435h2v1h-2zM1295 435h2v1h-2zM352 436h2v1h-2zM389 436h1v1h-1zM391 436h1v1h-1zM437 436h1v1h-1zM576 436h1v1h-1zM1038 436h2v1h-2zM1162 436h4v1h-4zM1208 436h2v1h-2zM1257 436h1v1h-1zM1279 436h1v1h-1zM1290 436h1v1h-1zM1294 436h1v1h-1zM354 437h1v1h-1zM390 437h1v1h-1zM392 437h1v1h-1zM437 437h1v1h-1zM576 437h1v1h-1zM1036 437h2v1h-2zM1166 437h4v1h-4zM1206 437h2v1h-2zM1256 437h1v1h-1zM1278 437h1v1h-1zM1289 437h1v1h-1zM1292 437h2v1h-2zM355 438h2v1h-2zM391 438h2v1h-2zM437 438h1v1h-1zM577 438h1v1h-1zM1034 438h2v1h-2zM1170 438h4v1h-4zM1204 438h2v1h-2zM1255 438h1v1h-1zM1277 438h1v1h-1zM1287 438h2v1h-2zM1290 438h2v1h-2zM357 439h1v1h-1zM392 439h2v1h-2zM437 439h1v1h-1zM577 439h1v1h-1zM1032 439h2v1h-2zM1174 439h4v1h-4zM1202 439h2v1h-2zM1253 439h2v1h-2zM1276 439h1v1h-1zM1286 439h1v1h-1zM1288 439h2v1h-2zM358 440h1v1h-1zM393 440h2v1h-2zM438 440h1v1h-1zM577 440h1v1h-1zM1030 440h2v1h-2zM1178 440h4v1h-4zM1200 440h2v1h-2zM1252 440h1v1h-1zM1275 440h1v1h-1zM1285 440h3v1h-3zM359 441h2v1h-2zM394 441h2v1h-2zM438 441h1v1h-1zM578 441h1v1h-1zM1027 441h3v1h-3zM1182 441h4v1h-4zM1198 441h2v1h-2zM1251 441h1v1h-1zM1274 441h1v1h-1zM1283 441h3v1h-3zM361 442h1v1h-1zM395 442h2v1h-2zM438 442h1v1h-1zM578 442h1v1h-1zM1025 442h2v1h-2zM1186 442h4v1h-4zM1196 442h2v1h-2zM1250 442h1v1h-1zM1273 442h1v1h-1zM1282 442h2v1h-2zM362 443h1v1h-1zM396 443h2v1h-2zM438 443h1v1h-1zM578 443h1v1h-1zM1023 443h2v1h-2zM1190 443h6v1h-6zM1249 443h1v1h-1zM1272 443h1v1h-1zM1280 443h2v1h-2zM363 444h2v1h-2zM397 444h2v1h-2zM438 444h1v1h-1zM579 444h1v1h-1zM1021 444h2v1h-2zM1192 444h6v1h-6zM1248 444h1v1h-1zM1271 444h1v1h-1zM1279 444h2v1h-2zM365 445h1v1h-1zM398 445h2v1h-2zM438 445h1v1h-1zM579 445h1v1h-1zM1019 445h2v1h-2zM1190 445h2v1h-2zM1198 445h4v1h-4zM1246 445h2v1h-2zM1271 445h1v1h-1zM1277 445h2v1h-2zM366 446h1v1h-1zM399 446h1v1h-1zM438 446h1v1h-1zM476 446h2v1h-2zM579 446h1v1h-1zM1017 446h2v1h-2zM1187 446h3v1h-3zM1202 446h4v1h-4zM1245 446h1v1h-1zM1270 446h1v1h-1zM1275 446h3v1h-3zM367 447h2v1h-2zM400 447h1v1h-1zM438 447h1v1h-1zM478 447h2v1h-2zM580 447h1v1h-1zM1015 447h2v1h-2zM1185 447h2v1h-2zM1206 447h4v1h-4zM1244 447h1v1h-1zM1269 447h1v1h-1zM1273 447h3v1h-3zM369 448h1v1h-1zM401 448h1v1h-1zM439 448h1v1h-1zM480 448h2v1h-2zM580 448h1v1h-1zM1013 448h2v1h-2zM1183 448h2v1h-2zM1210 448h4v1h-4zM1243 448h1v1h-1zM1268 448h1v1h-1zM1271 448h2v1h-2zM1274 448h1v1h-1zM370 449h1v1h-1zM402 449h1v1h-1zM439 449h1v1h-1zM482 449h2v1h-2zM580 449h1v1h-1zM1011 449h2v1h-2zM1181 449h2v1h-2zM1214 449h4v1h-4zM1242 449h1v1h-1zM1267 449h1v1h-1zM1269 449h2v1h-2zM1272 449h2v1h-2zM371 450h2v1h-2zM403 450h1v1h-1zM439 450h1v1h-1zM484 450h2v1h-2zM581 450h1v1h-1zM1009 450h2v1h-2zM1179 450h2v1h-2zM1218 450h4v1h-4zM1240 450h2v1h-2zM1266 450h3v1h-3zM1271 450h1v1h-1zM373 451h1v1h-1zM404 451h1v1h-1zM439 451h1v1h-1zM486 451h2v1h-2zM581 451h1v1h-1zM1007 451h2v1h-2zM1177 451h2v1h-2zM1222 451h4v1h-4zM1239 451h1v1h-1zM1265 451h2v1h-2zM1270 451h1v1h-1zM374 452h2v1h-2zM405 452h1v1h-1zM439 452h1v1h-1zM488 452h2v1h-2zM581 452h1v1h-1zM1005 452h2v1h-2zM1175 452h2v1h-2zM1226 452h4v1h-4zM1238 452h1v1h-1zM1264 452h1v1h-1zM1268 452h2v1h-2zM376 453h1v1h-1zM406 453h1v1h-1zM439 453h1v1h-1zM490 453h2v1h-2zM582 453h1v1h-1zM1002 453h3v1h-3zM1173 453h2v1h-2zM1230 453h4v1h-4zM1237 453h1v1h-1zM1262 453h2v1h-2zM1267 453h1v1h-1zM377 454h1v1h-1zM406 454h1v1h-1zM439 454h1v1h-1zM492 454h2v1h-2zM582 454h1v1h-1zM1000 454h2v1h-2zM1171 454h2v1h-2zM1234 454h4v1h-4zM1260 454h3v1h-3zM1266 454h1v1h-1zM378 455h2v1h-2zM407 455h1v1h-1zM439 455h1v1h-1zM494 455h2v1h-2zM582 455h1v1h-1zM998 455h2v1h-2zM1169 455h2v1h-2zM1235 455h1v1h-1zM1238 455h4v1h-4zM1258 455h2v1h-2zM1261 455h1v1h-1zM1264 455h2v1h-2zM380 456h1v1h-1zM408 456h1v1h-1zM440 456h1v1h-1zM496 456h2v1h-2zM583 456h1v1h-1zM996 456h2v1h-2zM1167 456h2v1h-2zM1233 456h2v1h-2zM1242 456h4v1h-4zM1256 456h2v1h-2zM1261 456h1v1h-1zM1263 456h1v1h-1zM381 457h1v1h-1zM409 457h1v1h-1zM440 457h1v1h-1zM498 457h2v1h-2zM583 457h1v1h-1zM994 457h2v1h-2zM1165 457h2v1h-2zM1232 457h1v1h-1zM1246 457h4v1h-4zM1254 457h2v1h-2zM1260 457h1v1h-1zM1262 457h1v1h-1zM382 458h2v1h-2zM410 458h1v1h-1zM440 458h1v1h-1zM500 458h2v1h-2zM584 458h1v1h-1zM992 458h2v1h-2zM1163 458h2v1h-2zM1231 458h1v1h-1zM1250 458h4v1h-4zM1259 458h3v1h-3zM384 459h1v1h-1zM411 459h1v1h-1zM440 459h1v1h-1zM502 459h2v1h-2zM584 459h1v1h-1zM990 459h2v1h-2zM1161 459h2v1h-2zM1230 459h1v1h-1zM1251 459h1v1h-1zM1254 459h6v1h-6zM385 460h1v1h-1zM412 460h1v1h-1zM440 460h1v1h-1zM504 460h3v1h-3zM584 460h1v1h-1zM988 460h2v1h-2zM1160 460h1v1h-1zM1229 460h1v1h-1zM1249 460h2v1h-2zM1257 460h5v1h-5zM386 461h2v1h-2zM413 461h1v1h-1zM440 461h1v1h-1zM507 461h2v1h-2zM585 461h1v1h-1zM986 461h2v1h-2zM1227 461h2v1h-2zM1247 461h2v1h-2zM1256 461h1v1h-1zM1262 461h4v1h-4zM304 462h48v1h-48zM388 462h1v1h-1zM413 462h1v1h-1zM440 462h1v1h-1zM509 462h2v1h-2zM585 462h1v1h-1zM984 462h2v1h-2zM1226 462h1v1h-1zM1245 462h2v1h-2zM1255 462h1v1h-1zM1266 462h4v1h-4zM352 463h94v1h-94zM511 463h2v1h-2zM585 463h1v1h-1zM982 463h2v1h-2zM1225 463h1v1h-1zM1243 463h2v1h-2zM1253 463h2v1h-2zM1270 463h4v1h-4zM391 464h1v1h-1zM415 464h1v1h-1zM441 464h1v1h-1zM446 464h94v1h-94zM586 464h1v1h-1zM980 464h2v1h-2zM1224 464h1v1h-1zM1241 464h2v1h-2zM1252 464h2v1h-2zM1274 464h4v1h-4zM392 465h1v1h-1zM416 465h1v1h-1zM441 465h1v1h-1zM515 465h2v1h-2zM540 465h95v1h-95zM978 465h2v1h-2zM1223 465h1v1h-1zM1239 465h2v1h-2zM1251 465h2v1h-2zM1278 465h4v1h-4zM393 466h2v1h-2zM417 466h1v1h-1zM441 466h1v1h-1zM517 466h2v1h-2zM586 466h1v1h-1zM635 466h94v1h-94zM1222 466h1v1h-1zM1237 466h2v1h-2zM1249 466h3v1h-3zM1282 466h4v1h-4zM395 467h1v1h-1zM418 467h1v1h-1zM441 467h1v1h-1zM519 467h2v1h-2zM587 467h1v1h-1zM729 467h94v1h-94zM1220 467h2v1h-2zM1236 467h1v1h-1zM1248 467h1v1h-1zM1251 467h1v1h-1zM1286 467h4v1h-4zM396 468h1v1h-1zM419 468h1v1h-1zM441 468h1v1h-1zM521 468h2v1h-2zM587 468h1v1h-1zM823 468h94v1h-94zM1219 468h1v1h-1zM1234 468h2v1h-2zM1247 468h1v1h-1zM1250 468h1v1h-1zM1290 468h1v1h-1zM397 469h2v1h-2zM420 469h1v1h-1zM441 469h1v1h-1zM523 469h2v1h-2zM587 469h1v1h-1zM917 469h94v1h-94zM1218 469h1v1h-1zM1232 469h2v1h-2zM1245 469h2v1h-2zM1249 469h1v1h-1zM399 470h1v1h-1zM420 470h1v1h-1zM441 470h1v1h-1zM525 470h2v1h-2zM588 470h1v1h-1zM1011 470h94v1h-94zM1217 470h1v1h-1zM1230 470h2v1h-2zM1244 470h1v1h-1zM1248 470h1v1h-1zM400 471h1v1h-1zM421 471h1v1h-1zM442 471h1v1h-1zM527 471h2v1h-2zM588 471h1v1h-1zM1105 471h95v1h-95zM1216 471h1v1h-1zM1228 471h2v1h-2zM1243 471h1v1h-1zM1247 471h1v1h-1zM401 472h2v1h-2zM422 472h1v1h-1zM442 472h1v1h-1zM529 472h2v1h-2zM588 472h1v1h-1zM1200 472h94v1h-94zM403 473h1v1h-1zM423 473h1v1h-1zM442 473h1v1h-1zM531 473h2v1h-2zM589 473h1v1h-1zM1213 473h2v1h-2zM1224 473h2v1h-2zM1240 473h1v1h-1zM1245 473h1v1h-1zM1294 473h47v1h-47zM404 474h2v1h-2zM424 474h1v1h-1zM442 474h1v1h-1zM533 474h3v1h-3zM589 474h1v1h-1zM1212 474h1v1h-1zM1222 474h2v1h-2zM1239 474h1v1h-1zM1244 474h1v1h-1zM406 475h1v1h-1zM425 475h1v1h-1zM442 475h1v1h-1zM536 475h2v1h-2zM590 475h1v1h-1zM1211 475h1v1h-1zM1221 475h1v1h-1zM1237 475h2v1h-2zM1243 475h1v1h-1zM407 476h1v1h-1zM426 476h1v1h-1zM442 476h1v1h-1zM538 476h2v1h-2zM590 476h1v1h-1zM1210 476h1v1h-1zM1219 476h2v1h-2zM1236 476h1v1h-1zM1242 476h1v1h-1zM408 477h2v1h-2zM427 477h1v1h-1zM442 477h1v1h-1zM540 477h2v1h-2zM590 477h1v1h-1zM1209 477h1v1h-1zM1217 477h2v1h-2zM1234 477h2v1h-2zM1241 477h1v1h-1zM410 478h1v1h-1zM427 478h1v1h-1zM442 478h1v1h-1zM542 478h2v1h-2zM591 478h1v1h-1zM1207 478h2v1h-2zM1215 478h2v1h-2zM1233 478h1v1h-1zM1241 478h1v1h-1zM411 479h1v1h-1zM428 479h1v1h-1zM443 479h1v1h-1zM544 479h2v1h-2zM591 479h1v1h-1zM1206 479h1v1h-1zM1213 479h2v1h-2zM1232 479h1v1h-1zM1240 479h1v1h-1zM412 480h2v1h-2zM429 480h1v1h-1zM443 480h1v1h-1zM546 480h2v1h-2zM591 480h1v1h-1zM1205 480h1v1h-1zM1211 480h2v1h-2zM1230 480h2v1h-2zM1239 480h1v1h-1zM414 481h1v1h-1zM430 481h1v1h-1zM443 481h1v1h-1zM548 481h2v1h-2zM592 481h1v1h-1zM1204 481h1v1h-1zM1209 481h2v1h-2zM1229 481h1v1h-1zM1238 481h1v1h-1zM415 482h1v1h-1zM431 482h1v1h-1zM443 482h1v1h-1zM550 482h2v1h-2zM592 482h1v1h-1zM1203 482h1v1h-1zM1208 482h1v1h-1zM1228 482h1v1h-1zM1237 482h1v1h-1zM416 483h2v1h-2zM432 483h1v1h-1zM443 483h1v1h-1zM552 483h2v1h-2zM592 483h1v1h-1zM1202 483h1v1h-1zM1206 483h2v1h-2zM1226 483h2v1h-2zM1236 483h1v1h-1zM418 484h1v1h-1zM433 484h1v1h-1zM443 484h1v1h-1zM554 484h2v1h-2zM593 484h1v1h-1zM1200 484h2v1h-2zM1204 484h2v1h-2zM1225 484h1v1h-1zM419 485h2v1h-2zM434 485h1v1h-1zM443 485h1v1h-1zM556 485h2v1h-2zM593 485h1v1h-1zM1199 485h1v1h-1zM1202 485h2v1h-2zM1224 485h1v1h-1zM421 486h1v1h-1zM434 486h1v1h-1zM443 486h1v1h-1zM558 486h2v1h-2zM593 486h1v1h-1zM1198 486h1v1h-1zM1200 486h2v1h-2zM1222 486h2v1h-2zM422 487h1v1h-1zM435 487h1v1h-1zM444 487h1v1h-1zM560 487h2v1h-2zM594 487h1v1h-1zM1197 487h3v1h-3zM1221 487h1v1h-1zM423 488h2v1h-2zM436 488h1v1h-1zM444 488h1v1h-1zM562 488h3v1h-3zM594 488h1v1h-1zM1196 488h2v1h-2zM1220 488h1v1h-1zM425 489h1v1h-1zM437 489h1v1h-1zM444 489h1v1h-1zM565 489h2v1h-2zM594 489h1v1h-1zM1194 489h2v1h-2zM1218 489h2v1h-2zM426 490h1v1h-1zM438 490h1v1h-1zM444 490h1v1h-1zM567 490h2v1h-2zM595 490h1v1h-1zM1193 490h2v1h-2zM1217 490h1v1h-1zM427 491h2v1h-2zM439 491h1v1h-1zM444 491h1v1h-1zM569 491h2v1h-2zM595 491h1v1h-1zM1191 491h2v1h-2zM1215 491h2v1h-2zM429 492h1v1h-1zM440 492h1v1h-1zM444 492h1v1h-1zM571 492h2v1h-2zM595 492h1v1h-1zM1189 492h3v1h-3zM1214 492h1v1h-1zM430 493h1v1h-1zM441 493h1v1h-1zM444 493h1v1h-1zM573 493h2v1h-2zM596 493h1v1h-1zM1187 493h2v1h-2zM1190 493h1v1h-1zM1213 493h1v1h-1zM431 494h2v1h-2zM441 494h1v1h-1zM444 494h1v1h-1zM575 494h2v1h-2zM596 494h1v1h-1zM1185 494h2v1h-2zM1189 494h1v1h-1zM1211 494h2v1h-2zM433 495h1v1h-1zM442 495h1v1h-1zM445 495h1v1h-1zM577 495h2v1h-2zM597 495h1v1h-1zM1183 495h2v1h-2zM1187 495h2v1h-2zM1210 495h1v1h-1zM434 496h1v1h-1zM443 496h1v1h-1zM445 496h1v1h-1zM579 496h2v1h-2zM597 496h1v1h-1zM1181 496h2v1h-2zM1186 496h1v1h-1zM1209 496h1v1h-1zM435 497h2v1h-2zM444 497h2v1h-2zM581 497h2v1h-2zM597 497h1v1h-1zM1179 497h2v1h-2zM1185 497h1v1h-1zM1207 497h2v1h-2zM437 498h1v1h-1zM583 498h2v1h-2zM598 498h1v1h-1zM1178 498h1v1h-1zM1206 498h1v1h-1zM438 499h2v1h-2zM585 499h2v1h-2zM598 499h1v1h-1zM1176 499h2v1h-2zM1205 499h1v1h-1zM440 500h1v1h-1zM587 500h2v1h-2zM598 500h1v1h-1zM1174 500h2v1h-2zM1203 500h2v1h-2zM441 501h1v1h-1zM589 501h2v1h-2zM599 501h1v1h-1zM1172 501h2v1h-2zM1202 501h1v1h-1zM442 502h2v1h-2zM591 502h3v1h-3zM599 502h1v1h-1zM1170 502h2v1h-2zM1201 502h1v1h-1zM444 503h1v1h-1zM594 503h2v1h-2zM599 503h1v1h-1zM1168 503h2v1h-2zM1199 503h2v1h-2zM445 504h1v1h-1zM596 504h2v1h-2zM600 504h1v1h-1zM1166 504h2v1h-2zM1198 504h1v1h-1zM446 505h2v1h-2zM598 505h3v1h-3zM1165 505h1v1h-1zM1196 505h2v1h-2zM448 506h1v1h-1zM600 506h2v1h-2zM1163 506h2v1h-2zM1195 506h1v1h-1zM449 507h1v1h-1zM601 507h3v1h-3zM1161 507h2v1h-2zM1194 507h1v1h-1zM450 508h2v1h-2zM601 508h1v1h-1zM604 508h2v1h-2zM1159 508h2v1h-2zM1192 508h2v1h-2zM452 509h1v1h-1zM601 509h1v1h-1zM606 509h2v1h-2zM1157 509h2v1h-2zM1191 509h1v1h-1zM453 510h2v1h-2zM602 510h1v1h-1zM608 510h2v1h-2zM1155 510h2v1h-2zM1190 510h1v1h-1zM455 511h1v1h-1zM602 511h1v1h-1zM610 511h2v1h-2zM1153 511h2v1h-2zM1188 511h2v1h-2zM456 512h1v1h-1zM602 512h1v1h-1zM612 512h2v1h-2zM1151 512h2v1h-2zM1187 512h1v1h-1zM457 513h2v1h-2zM603 513h1v1h-1zM614 513h2v1h-2zM1150 513h1v1h-1zM1186 513h1v1h-1zM459 514h1v1h-1zM603 514h1v1h-1zM616 514h2v1h-2zM1148 514h2v1h-2zM1184 514h2v1h-2zM460 515h1v1h-1zM604 515h1v1h-1zM618 515h2v1h-2zM1146 515h2v1h-2zM1183 515h1v1h-1zM461 516h2v1h-2zM604 516h1v1h-1zM620 516h3v1h-3zM1144 516h2v1h-2zM1182 516h1v1h-1zM463 517h1v1h-1zM604 517h1v1h-1zM623 517h2v1h-2zM1142 517h2v1h-2zM1180 517h2v1h-2zM464 518h1v1h-1zM605 518h1v1h-1zM625 518h2v1h-2zM1140 518h2v1h-2zM1179 518h1v1h-1zM465 519h2v1h-2zM605 519h1v1h-1zM627 519h2v1h-2zM1138 519h2v1h-2zM1178 519h1v1h-1zM467 520h1v1h-1zM605 520h1v1h-1zM629 520h2v1h-2zM1136 520h2v1h-2zM1176 520h2v1h-2zM468 521h2v1h-2zM606 521h1v1h-1zM631 521h2v1h-2zM1135 521h1v1h-1zM1175 521h1v1h-1zM470 522h1v1h-1zM606 522h1v1h-1zM633 522h2v1h-2zM1133 522h2v1h-2zM1173 522h2v1h-2zM471 523h1v1h-1zM606 523h1v1h-1zM635 523h2v1h-2zM1131 523h2v1h-2zM1172 523h1v1h-1zM472 524h2v1h-2zM607 524h1v1h-1zM637 524h2v1h-2zM1129 524h2v1h-2zM1171 524h1v1h-1zM474 525h1v1h-1zM607 525h1v1h-1zM639 525h2v1h-2zM1127 525h2v1h-2zM1169 525h2v1h-2zM475 526h1v1h-1zM607 526h1v1h-1zM641 526h2v1h-2zM1125 526h2v1h-2zM1168 526h1v1h-1zM476 527h2v1h-2zM608 527h1v1h-1zM643 527h2v1h-2zM1123 527h2v1h-2zM1167 527h1v1h-1zM478 528h1v1h-1zM608 528h1v1h-1zM645 528h2v1h-2zM1121 528h2v1h-2zM1165 528h2v1h-2zM479 529h1v1h-1zM608 529h1v1h-1zM647 529h2v1h-2zM1120 529h1v1h-1zM1164 529h1v1h-1zM480 530h2v1h-2zM609 530h1v1h-1zM649 530h3v1h-3zM1118 530h2v1h-2zM1163 530h1v1h-1zM482 531h1v1h-1zM609 531h1v1h-1zM652 531h2v1h-2zM1116 531h2v1h-2zM1161 531h2v1h-2zM483 532h1v1h-1zM610 532h1v1h-1zM654 532h2v1h-2zM1114 532h2v1h-2zM1160 532h1v1h-1zM484 533h2v1h-2zM610 533h1v1h-1zM656 533h2v1h-2zM1112 533h2v1h-2zM1159 533h1v1h-1zM486 534h1v1h-1zM610 534h1v1h-1zM658 534h2v1h-2zM1110 534h2v1h-2zM1157 534h2v1h-2zM487 535h2v1h-2zM611 535h1v1h-1zM660 535h2v1h-2zM1108 535h2v1h-2zM1156 535h1v1h-1zM489 536h1v1h-1zM611 536h1v1h-1zM662 536h2v1h-2zM1107 536h1v1h-1zM1154 536h2v1h-2zM490 537h1v1h-1zM611 537h1v1h-1zM664 537h2v1h-2zM1105 537h2v1h-2zM1153 537h1v1h-1zM491 538h2v1h-2zM612 538h1v1h-1zM666 538h2v1h-2zM1103 538h2v1h-2zM1152 538h1v1h-1zM493 539h1v1h-1zM612 539h1v1h-1zM668 539h2v1h-2zM1101 539h2v1h-2zM1150 539h2v1h-2zM494 540h1v1h-1zM612 540h1v1h-1zM670 540h2v1h-2zM1099 540h2v1h-2zM1149 540h1v1h-1zM495 541h2v1h-2zM613 541h1v1h-1zM672 541h2v1h-2zM1097 541h2v1h-2zM1148 541h1v1h-1zM497 542h1v1h-1zM613 542h1v1h-1zM674 542h2v1h-2zM1095 542h2v1h-2zM1146 542h2v1h-2zM498 543h1v1h-1zM613 543h1v1h-1zM676 543h2v1h-2zM1093 543h2v1h-2zM1145 543h1v1h-1zM499 544h2v1h-2zM614 544h1v1h-1zM678 544h3v1h-3zM1092 544h1v1h-1zM1144 544h1v1h-1zM501 545h1v1h-1zM614 545h1v1h-1zM681 545h2v1h-2zM1090 545h2v1h-2zM1142 545h2v1h-2zM502 546h2v1h-2zM614 546h1v1h-1zM683 546h2v1h-2zM1088 546h2v1h-2zM1141 546h1v1h-1zM504 547h1v1h-1zM615 547h1v1h-1zM685 547h2v1h-2zM950 547h3v1h-3zM1086 547h2v1h-2zM1140 547h1v1h-1zM505 548h1v1h-1zM615 548h1v1h-1zM687 548h2v1h-2zM944 548h6v1h-6zM1084 548h2v1h-2zM1138 548h2v1h-2zM506 549h2v1h-2zM615 549h1v1h-1zM689 549h2v1h-2zM938 549h6v1h-6zM1082 549h2v1h-2zM1137 549h1v1h-1zM508 550h1v1h-1zM616 550h1v1h-1zM691 550h2v1h-2zM932 550h6v1h-6zM1080 550h2v1h-2zM1135 550h2v1h-2zM509 551h1v1h-1zM616 551h1v1h-1zM693 551h2v1h-2zM926 551h6v1h-6zM1078 551h2v1h-2zM1134 551h1v1h-1zM510 552h2v1h-2zM617 552h1v1h-1zM695 552h2v1h-2zM920 552h6v1h-6zM1077 552h1v1h-1zM1133 552h1v1h-1zM512 553h1v1h-1zM617 553h1v1h-1zM697 553h2v1h-2zM914 553h6v1h-6zM1075 553h2v1h-2zM1131 553h2v1h-2zM513 554h1v1h-1zM617 554h1v1h-1zM699 554h2v1h-2zM911 554h3v1h-3zM1073 554h2v1h-2zM1130 554h1v1h-1zM514 555h2v1h-2zM618 555h1v1h-1zM701 555h2v1h-2zM1071 555h2v1h-2zM1129 555h1v1h-1zM516 556h1v1h-1zM618 556h1v1h-1zM703 556h2v1h-2zM1069 556h2v1h-2zM1127 556h2v1h-2zM517 557h2v1h-2zM618 557h1v1h-1zM705 557h2v1h-2zM1067 557h2v1h-2zM1126 557h1v1h-1zM519 558h1v1h-1zM619 558h1v1h-1zM707 558h3v1h-3zM1065 558h2v1h-2zM1125 558h1v1h-1zM520 559h1v1h-1zM619 559h1v1h-1zM710 559h2v1h-2zM1064 559h1v1h-1zM1123 559h2v1h-2zM521 560h2v1h-2zM619 560h1v1h-1zM712 560h2v1h-2zM1062 560h2v1h-2zM1122 560h1v1h-1zM523 561h1v1h-1zM620 561h1v1h-1zM714 561h2v1h-2zM1060 561h2v1h-2zM1121 561h1v1h-1zM524 562h1v1h-1zM620 562h1v1h-1zM716 562h2v1h-2zM1058 562h2v1h-2zM1119 562h2v1h-2zM525 563h2v1h-2zM620 563h1v1h-1zM718 563h2v1h-2zM1056 563h2v1h-2zM1118 563h1v1h-1zM527 564h1v1h-1zM621 564h1v1h-1zM720 564h2v1h-2zM1054 564h2v1h-2zM1117 564h1v1h-1zM528 565h1v1h-1zM621 565h1v1h-1zM722 565h2v1h-2zM1052 565h2v1h-2zM1115 565h2v1h-2zM529 566h2v1h-2zM621 566h1v1h-1zM724 566h2v1h-2zM1050 566h2v1h-2zM1114 566h1v1h-1zM531 567h1v1h-1zM622 567h1v1h-1zM726 567h2v1h-2zM1049 567h1v1h-1zM1112 567h2v1h-2zM532 568h2v1h-2zM622 568h1v1h-1zM728 568h2v1h-2zM1047 568h2v1h-2zM1111 568h1v1h-1zM534 569h1v1h-1zM622 569h1v1h-1zM730 569h2v1h-2zM1045 569h2v1h-2zM1110 569h1v1h-1zM535 570h1v1h-1zM623 570h1v1h-1zM732 570h2v1h-2zM1003 570h2v1h-2zM1043 570h2v1h-2zM1108 570h2v1h-2zM536 571h2v1h-2zM623 571h1v1h-1zM734 571h2v1h-2zM1001 571h2v1h-2zM1041 571h2v1h-2zM1107 571h1v1h-1zM538 572h1v1h-1zM624 572h1v1h-1zM736 572h3v1h-3zM999 572h2v1h-2zM1039 572h2v1h-2zM1106 572h1v1h-1zM539 573h1v1h-1zM624 573h1v1h-1zM739 573h2v1h-2zM997 573h2v1h-2zM1037 573h2v1h-2zM1104 573h2v1h-2zM540 574h2v1h-2zM624 574h1v1h-1zM741 574h2v1h-2zM995 574h2v1h-2zM1035 574h2v1h-2zM1103 574h1v1h-1zM542 575h1v1h-1zM625 575h1v1h-1zM743 575h2v1h-2zM993 575h2v1h-2zM1034 575h1v1h-1zM1102 575h1v1h-1zM543 576h1v1h-1zM625 576h1v1h-1zM745 576h2v1h-2zM991 576h2v1h-2zM1032 576h2v1h-2zM1100 576h2v1h-2zM544 577h2v1h-2zM625 577h1v1h-1zM747 577h2v1h-2zM989 577h2v1h-2zM1030 577h2v1h-2zM1099 577h1v1h-1zM546 578h1v1h-1zM626 578h1v1h-1zM749 578h2v1h-2zM987 578h2v1h-2zM1028 578h2v1h-2zM1098 578h1v1h-1zM547 579h1v1h-1zM626 579h1v1h-1zM751 579h2v1h-2zM985 579h2v1h-2zM1026 579h2v1h-2zM1096 579h2v1h-2zM548 580h2v1h-2zM626 580h1v1h-1zM753 580h2v1h-2zM982 580h3v1h-3zM1024 580h2v1h-2zM1095 580h1v1h-1zM550 581h1v1h-1zM627 581h1v1h-1zM755 581h2v1h-2zM980 581h2v1h-2zM1022 581h2v1h-2zM1093 581h2v1h-2zM551 582h2v1h-2zM627 582h1v1h-1zM757 582h2v1h-2zM978 582h2v1h-2zM1021 582h1v1h-1zM1092 582h1v1h-1zM553 583h1v1h-1zM627 583h1v1h-1zM759 583h2v1h-2zM976 583h2v1h-2zM1019 583h2v1h-2zM1091 583h1v1h-1zM554 584h1v1h-1zM628 584h1v1h-1zM761 584h2v1h-2zM974 584h2v1h-2zM1017 584h2v1h-2zM1089 584h2v1h-2zM555 585h2v1h-2zM628 585h1v1h-1zM763 585h2v1h-2zM972 585h2v1h-2zM1015 585h2v1h-2zM1088 585h1v1h-1zM557 586h1v1h-1zM628 586h1v1h-1zM765 586h3v1h-3zM970 586h2v1h-2zM1013 586h2v1h-2zM1087 586h1v1h-1zM558 587h1v1h-1zM629 587h1v1h-1zM768 587h2v1h-2zM968 587h2v1h-2zM1011 587h2v1h-2zM1085 587h2v1h-2zM559 588h2v1h-2zM629 588h1v1h-1zM770 588h2v1h-2zM966 588h2v1h-2zM1009 588h2v1h-2zM1084 588h1v1h-1zM561 589h1v1h-1zM630 589h1v1h-1zM772 589h2v1h-2zM964 589h2v1h-2zM1007 589h2v1h-2zM1083 589h1v1h-1zM562 590h1v1h-1zM630 590h1v1h-1zM774 590h2v1h-2zM962 590h2v1h-2zM1006 590h1v1h-1zM1081 590h2v1h-2zM563 591h2v1h-2zM630 591h1v1h-1zM776 591h2v1h-2zM959 591h3v1h-3zM1004 591h2v1h-2zM1080 591h1v1h-1zM565 592h1v1h-1zM631 592h1v1h-1zM778 592h2v1h-2zM957 592h2v1h-2zM1002 592h2v1h-2zM1079 592h1v1h-1zM566 593h2v1h-2zM631 593h1v1h-1zM780 593h2v1h-2zM955 593h2v1h-2zM1000 593h2v1h-2zM1077 593h2v1h-2zM568 594h1v1h-1zM631 594h1v1h-1zM782 594h2v1h-2zM953 594h2v1h-2zM998 594h2v1h-2zM1076 594h1v1h-1zM569 595h1v1h-1zM632 595h1v1h-1zM784 595h2v1h-2zM951 595h2v1h-2zM996 595h2v1h-2zM1074 595h2v1h-2zM570 596h2v1h-2zM632 596h1v1h-1zM786 596h2v1h-2zM949 596h2v1h-2zM994 596h2v1h-2zM1073 596h1v1h-1zM572 597h1v1h-1zM632 597h1v1h-1zM788 597h2v1h-2zM947 597h2v1h-2zM992 597h2v1h-2zM1072 597h1v1h-1zM573 598h1v1h-1zM633 598h1v1h-1zM790 598h2v1h-2zM945 598h2v1h-2zM991 598h1v1h-1zM1070 598h2v1h-2zM574 599h2v1h-2zM633 599h1v1h-1zM792 599h2v1h-2zM943 599h2v1h-2zM989 599h2v1h-2zM1069 599h1v1h-1zM576 600h1v1h-1zM633 600h1v1h-1zM794 600h3v1h-3zM941 600h2v1h-2zM987 600h2v1h-2zM1068 600h1v1h-1zM577 601h1v1h-1zM634 601h1v1h-1zM797 601h2v1h-2zM938 601h3v1h-3zM985 601h2v1h-2zM1066 601h2v1h-2zM578 602h2v1h-2zM634 602h1v1h-1zM799 602h2v1h-2zM936 602h2v1h-2zM983 602h2v1h-2zM1065 602h1v1h-1zM580 603h1v1h-1zM634 603h1v1h-1zM801 603h2v1h-2zM934 603h2v1h-2zM981 603h2v1h-2zM1064 603h1v1h-1zM581 604h2v1h-2zM635 604h1v1h-1zM803 604h2v1h-2zM932 604h2v1h-2zM979 604h2v1h-2zM1062 604h2v1h-2zM583 605h1v1h-1zM635 605h1v1h-1zM805 605h2v1h-2zM930 605h2v1h-2zM978 605h1v1h-1zM1061 605h1v1h-1zM584 606h1v1h-1zM635 606h1v1h-1zM807 606h2v1h-2zM928 606h2v1h-2zM976 606h2v1h-2zM1060 606h1v1h-1zM585 607h2v1h-2zM636 607h1v1h-1zM809 607h2v1h-2zM926 607h2v1h-2zM974 607h2v1h-2zM1058 607h2v1h-2zM587 608h1v1h-1zM636 608h1v1h-1zM811 608h2v1h-2zM924 608h2v1h-2zM972 608h2v1h-2zM1057 608h1v1h-1zM588 609h1v1h-1zM637 609h1v1h-1zM813 609h2v1h-2zM922 609h2v1h-2zM970 609h2v1h-2zM1056 609h1v1h-1zM589 610h2v1h-2zM637 610h1v1h-1zM815 610h2v1h-2zM920 610h2v1h-2zM968 610h2v1h-2zM1054 610h2v1h-2zM591 611h1v1h-1zM637 611h1v1h-1zM817 611h2v1h-2zM918 611h2v1h-2zM966 611h2v1h-2zM1053 611h1v1h-1zM592 612h1v1h-1zM638 612h1v1h-1zM819 612h2v1h-2zM915 612h3v1h-3zM964 612h2v1h-2zM1051 612h2v1h-2zM593 613h2v1h-2zM638 613h1v1h-1zM821 613h2v1h-2zM913 613h2v1h-2zM963 613h1v1h-1zM1050 613h1v1h-1zM595 614h1v1h-1zM638 614h1v1h-1zM823 614h3v1h-3zM911 614h2v1h-2zM1049 614h1v1h-1zM596 615h2v1h-2zM639 615h1v1h-1zM826 615h2v1h-2zM909 615h2v1h-2zM1047 615h2v1h-2zM598 616h1v1h-1zM639 616h1v1h-1zM828 616h2v1h-2zM907 616h2v1h-2zM1046 616h1v1h-1zM599 617h1v1h-1zM639 617h1v1h-1zM830 617h2v1h-2zM905 617h2v1h-2zM1045 617h1v1h-1zM600 618h2v1h-2zM640 618h1v1h-1zM832 618h2v1h-2zM903 618h2v1h-2zM1043 618h2v1h-2zM602 619h1v1h-1zM640 619h1v1h-1zM834 619h2v1h-2zM901 619h2v1h-2zM1042 619h1v1h-1zM603 620h1v1h-1zM640 620h1v1h-1zM836 620h2v1h-2zM899 620h2v1h-2zM1041 620h1v1h-1zM604 621h2v1h-2zM641 621h1v1h-1zM838 621h2v1h-2zM897 621h2v1h-2zM1039 621h2v1h-2zM606 622h1v1h-1zM641 622h1v1h-1zM840 622h2v1h-2zM894 622h3v1h-3zM1038 622h1v1h-1zM607 623h1v1h-1zM641 623h1v1h-1zM842 623h2v1h-2zM892 623h2v1h-2zM1037 623h1v1h-1zM608 624h2v1h-2zM642 624h1v1h-1zM844 624h2v1h-2zM890 624h2v1h-2zM1035 624h2v1h-2zM610 625h1v1h-1zM642 625h1v1h-1zM846 625h2v1h-2zM888 625h2v1h-2zM1034 625h1v1h-1zM611 626h1v1h-1zM642 626h1v1h-1zM848 626h2v1h-2zM886 626h2v1h-2zM1032 626h2v1h-2zM612 627h2v1h-2zM643 627h1v1h-1zM850 627h2v1h-2zM884 627h2v1h-2zM1031 627h1v1h-1zM614 628h1v1h-1zM643 628h1v1h-1zM852 628h3v1h-3zM882 628h2v1h-2zM1030 628h1v1h-1zM615 629h2v1h-2zM644 629h1v1h-1zM855 629h2v1h-2zM880 629h2v1h-2zM1028 629h2v1h-2zM617 630h1v1h-1zM644 630h1v1h-1zM857 630h2v1h-2zM878 630h2v1h-2zM1027 630h1v1h-1zM618 631h1v1h-1zM644 631h1v1h-1zM859 631h2v1h-2zM876 631h2v1h-2zM1026 631h1v1h-1zM619 632h2v1h-2zM645 632h1v1h-1zM861 632h2v1h-2zM874 632h2v1h-2zM1024 632h2v1h-2zM621 633h1v1h-1zM645 633h1v1h-1zM863 633h2v1h-2zM871 633h3v1h-3zM1023 633h1v1h-1zM622 634h1v1h-1zM645 634h1v1h-1zM865 634h2v1h-2zM869 634h2v1h-2zM1022 634h1v1h-1zM623 635h2v1h-2zM646 635h1v1h-1zM867 635h2v1h-2zM1020 635h2v1h-2zM625 636h1v1h-1zM646 636h1v1h-1zM865 636h2v1h-2zM869 636h2v1h-2zM1019 636h1v1h-1zM626 637h1v1h-1zM646 637h1v1h-1zM863 637h2v1h-2zM871 637h2v1h-2zM1018 637h1v1h-1zM627 638h2v1h-2zM647 638h1v1h-1zM861 638h2v1h-2zM873 638h2v1h-2zM1016 638h2v1h-2zM629 639h1v1h-1zM647 639h1v1h-1zM859 639h2v1h-2zM875 639h2v1h-2zM1015 639h1v1h-1zM630 640h2v1h-2zM647 640h1v1h-1zM857 640h2v1h-2zM877 640h2v1h-2zM1013 640h2v1h-2zM632 641h1v1h-1zM648 641h1v1h-1zM855 641h2v1h-2zM879 641h2v1h-2zM1012 641h1v1h-1zM633 642h1v1h-1zM648 642h1v1h-1zM853 642h2v1h-2zM881 642h3v1h-3zM1011 642h1v1h-1zM634 643h2v1h-2zM648 643h1v1h-1zM850 643h3v1h-3zM884 643h2v1h-2zM1009 643h2v1h-2zM636 644h1v1h-1zM649 644h1v1h-1zM848 644h2v1h-2zM886 644h2v1h-2zM1008 644h1v1h-1zM637 645h1v1h-1zM649 645h1v1h-1zM846 645h2v1h-2zM888 645h2v1h-2zM1007 645h1v1h-1zM638 646h2v1h-2zM649 646h1v1h-1zM844 646h2v1h-2zM890 646h2v1h-2zM1005 646h2v1h-2zM640 647h1v1h-1zM650 647h1v1h-1zM842 647h2v1h-2zM892 647h2v1h-2zM1004 647h1v1h-1zM641 648h1v1h-1zM650 648h1v1h-1zM840 648h2v1h-2zM894 648h2v1h-2zM1003 648h1v1h-1zM642 649h2v1h-2zM651 649h1v1h-1zM838 649h2v1h-2zM896 649h2v1h-2zM1001 649h2v1h-2zM644 650h1v1h-1zM651 650h1v1h-1zM836 650h2v1h-2zM898 650h2v1h-2zM1000 650h1v1h-1zM645 651h2v1h-2zM651 651h1v1h-1zM834 651h2v1h-2zM892 651h1v1h-1zM900 651h2v1h-2zM999 651h1v1h-1zM647 652h1v1h-1zM652 652h1v1h-1zM832 652h2v1h-2zM893 652h4v1h-4zM902 652h2v1h-2zM997 652h2v1h-2zM648 653h1v1h-1zM652 653h1v1h-1zM830 653h2v1h-2zM897 653h4v1h-4zM904 653h2v1h-2zM996 653h1v1h-1zM649 654h2v1h-2zM652 654h1v1h-1zM827 654h3v1h-3zM901 654h4v1h-4zM906 654h2v1h-2zM995 654h1v1h-1zM651 655h1v1h-1zM653 655h1v1h-1zM825 655h2v1h-2zM905 655h5v1h-5zM993 655h2v1h-2zM652 656h2v1h-2zM823 656h2v1h-2zM908 656h4v1h-4zM992 656h1v1h-1zM653 657h2v1h-2zM821 657h2v1h-2zM990 657h2v1h-2zM654 658h2v1h-2zM819 658h2v1h-2zM989 658h1v1h-1zM654 659h1v1h-1zM656 659h1v1h-1zM817 659h2v1h-2zM988 659h1v1h-1zM654 660h1v1h-1zM657 660h2v1h-2zM815 660h2v1h-2zM986 660h2v1h-2zM655 661h1v1h-1zM659 661h1v1h-1zM813 661h2v1h-2zM985 661h1v1h-1zM655 662h1v1h-1zM660 662h1v1h-1zM811 662h2v1h-2zM984 662h1v1h-1zM655 663h1v1h-1zM661 663h2v1h-2zM809 663h2v1h-2zM982 663h2v1h-2zM656 664h1v1h-1zM663 664h1v1h-1zM806 664h3v1h-3zM981 664h1v1h-1zM656 665h1v1h-1zM664 665h2v1h-2zM804 665h2v1h-2zM980 665h1v1h-1zM657 666h1v1h-1zM666 666h1v1h-1zM802 666h2v1h-2zM978 666h2v1h-2zM657 667h1v1h-1zM667 667h1v1h-1zM800 667h2v1h-2zM977 667h1v1h-1zM657 668h1v1h-1zM668 668h2v1h-2zM798 668h2v1h-2zM976 668h1v1h-1zM658 669h1v1h-1zM670 669h1v1h-1zM796 669h2v1h-2zM974 669h2v1h-2zM658 670h1v1h-1zM671 670h1v1h-1zM794 670h2v1h-2zM973 670h1v1h-1zM658 671h1v1h-1zM672 671h2v1h-2zM792 671h2v1h-2zM971 671h2v1h-2zM659 672h1v1h-1zM674 672h1v1h-1zM790 672h2v1h-2zM970 672h1v1h-1zM659 673h1v1h-1zM675 673h1v1h-1zM788 673h2v1h-2zM969 673h1v1h-1zM659 674h1v1h-1zM676 674h2v1h-2zM786 674h2v1h-2zM967 674h2v1h-2zM660 675h1v1h-1zM678 675h1v1h-1zM783 675h3v1h-3zM966 675h1v1h-1zM660 676h1v1h-1zM679 676h2v1h-2zM781 676h2v1h-2zM965 676h1v1h-1zM660 677h1v1h-1zM681 677h1v1h-1zM779 677h2v1h-2zM963 677h2v1h-2zM661 678h1v1h-1zM682 678h1v1h-1zM777 678h2v1h-2zM962 678h1v1h-1zM661 679h1v1h-1zM683 679h2v1h-2zM775 679h2v1h-2zM961 679h1v1h-1zM661 680h1v1h-1zM685 680h1v1h-1zM773 680h2v1h-2zM959 680h2v1h-2zM662 681h1v1h-1zM686 681h1v1h-1zM771 681h2v1h-2zM958 681h1v1h-1zM662 682h1v1h-1zM687 682h2v1h-2zM769 682h2v1h-2zM957 682h1v1h-1zM662 683h1v1h-1zM689 683h1v1h-1zM767 683h2v1h-2zM955 683h2v1h-2zM663 684h1v1h-1zM690 684h1v1h-1zM765 684h2v1h-2zM663 685h1v1h-1zM691 685h2v1h-2zM763 685h2v1h-2zM664 686h1v1h-1zM693 686h1v1h-1zM760 686h3v1h-3zM664 687h1v1h-1zM694 687h2v1h-2zM758 687h2v1h-2zM664 688h1v1h-1zM696 688h1v1h-1zM756 688h2v1h-2zM665 689h1v1h-1zM697 689h1v1h-1zM754 689h2v1h-2zM665 690h1v1h-1zM698 690h2v1h-2zM752 690h2v1h-2zM665 691h1v1h-1zM700 691h1v1h-1zM750 691h2v1h-2zM666 692h1v1h-1zM701 692h1v1h-1zM748 692h2v1h-2zM666 693h1v1h-1zM702 693h2v1h-2zM746 693h2v1h-2zM666 694h1v1h-1zM704 694h1v1h-1zM744 694h2v1h-2zM667 695h1v1h-1zM705 695h1v1h-1zM742 695h2v1h-2zM667 696h1v1h-1zM706 696h2v1h-2zM739 696h3v1h-3zM667 697h1v1h-1zM708 697h1v1h-1zM737 697h2v1h-2zM668 698h1v1h-1zM709 698h2v1h-2zM735 698h2v1h-2zM668 699h1v1h-1zM711 699h1v1h-1zM733 699h2v1h-2zM668 700h1v1h-1zM712 700h1v1h-1zM731 700h2v1h-2zM669 701h1v1h-1zM713 701h2v1h-2zM729 701h2v1h-2zM669 702h1v1h-1zM715 702h1v1h-1zM727 702h2v1h-2zM669 703h1v1h-1zM716 703h1v1h-1zM725 703h2v1h-2zM670 704h1v1h-1zM717 704h2v1h-2zM723 704h2v1h-2zM670 705h1v1h-1zM719 705h1v1h-1zM721 705h2v1h-2zM671 706h1v1h-1zM719 706h2v1h-2zM671 707h1v1h-1zM716 707h3v1h-3zM721 707h2v1h-2zM671 708h1v1h-1zM714 708h2v1h-2zM723 708h1v1h-1zM672 709h1v1h-1zM712 709h2v1h-2zM724 709h1v1h-1zM672 710h1v1h-1zM710 710h2v1h-2zM725 710h2v1h-2zM672 711h1v1h-1zM708 711h2v1h-2zM727 711h1v1h-1zM673 712h1v1h-1zM706 712h2v1h-2zM728 712h2v1h-2zM704 713h2v1h-2zM730 713h1v1h-1zM702 714h2v1h-2zM731 714h1v1h-1zM700 715h2v1h-2zM732 715h2v1h-2zM698 716h2v1h-2zM734 716h1v1h-1zM695 717h3v1h-3zM735 717h1v1h-1zM693 718h2v1h-2zM736 718h2v1h-2zM691 719h2v1h-2zM738 719h1v1h-1zM689 720h2v1h-2zM739 720h1v1h-1zM687 721h2v1h-2zM740 721h2v1h-2zM685 722h2v1h-2zM742 722h1v1h-1zM683 723h2v1h-2zM743 723h2v1h-2zM681 724h2v1h-2zM745 724h1v1h-1zM679 725h2v1h-2zM746 725h1v1h-1zM677 726h2v1h-2zM747 726h2v1h-2zM675 727h2v1h-2zM749 727h1v1h-1zM674 728h1v1h-1zM750 728h1v1h-1zM760 728h1v1h-1zM751 729h2v1h-2zM761 729h4v1h-4zM753 730h1v1h-1zM765 730h3v1h-3zM754 731h1v1h-1zM768 731h4v1h-4zM755 732h2v1h-2zM772 732h3v1h-3zM757 733h1v1h-1zM775 733h3v1h-3z"/>
<path shape-rendering="crispEdges" fill="#636363" d="M1236 427h1v1h-1zM1236 428h1v1h-1zM1236 429h1v1h-1zM1237 430h1v1h-1zM1237 431h1v1h-1zM1237 432h1v1h-1zM1237 433h1v1h-1zM1237 434h1v1h-1zM1238 435h1v1h-1zM1238 436h1v1h-1zM1238 437h1v1h-1zM1238 438h1v1h-1zM1238 439h1v1h-1zM1239 440h1v1h-1zM1239 441h1v1h-1zM1239 442h1v1h-1zM1239 443h1v1h-1zM1240 444h1v1h-1zM1240 445h1v1h-1zM1240 446h1v1h-1zM1240 447h1v1h-1zM1240 448h1v1h-1zM1241 449h1v1h-1zM1241 450h1v1h-1zM1241 451h1v1h-1zM1241 452h1v1h-1zM1241 453h1v1h-1zM1242 454h1v1h-1zM1242 455h1v1h-1zM1242 456h1v1h-1zM834 460h38v1h-38zM1030 650h3v1h-3zM1025 651h5v1h-5zM1021 652h4v1h-4zM1017 653h4v1h-4zM1013 654h4v1h-4zM1008 655h5v1h-5zM1004 656h4v1h-4zM1000 657h4v1h-4zM996 658h4v1h-4zM992 659h4v1h-4zM987 660h5v1h-5zM983 661h4v1h-4zM979 662h4v1h-4zM975 663h4v1h-4zM973 664h2v1h-2zM853 689h19v1h-19z"/>
<g font-family="DejaVu Sans, Liberation Sans, sans-serif" font-size="12" fill="#000">
<text x="125" y="115">i</text>
<text x="396" y="100">y</text>
<text x="396 402" y="110">yE</text>
<text x="409 415" y="100">y@</text>
<text x="463 469" y="100">yu</text>
<text x="463 469" y="115">y&amp;</text>
<text x="463 469" y="125">yi</text>
<text x="166 169" y="187">iE</text>
<text x="115 118 126" y="207">iou</text>
<text x="449 452" y="213">i,</text>
<text x="677 680" y="213">i[</text>
<text x="1044 1052" y="213">u@</text>
<text x="1475" y="187">u</text>
<text x="1572" y="184">u</text>
<text x="1458 1466 1474" y="279">uai</text>
<text x="710 713" y="333">io</text>
<text x="1107 1115 1123" y="395">uej</text>
<text x="728" y="405">@</text>
<text x="1364" y="375">o</text>
<text x="1404 1412" y="367">uA</text>
<text x="1240 1248 1256" y="495">ong</text>
<text x="344 353" y="453">N-</text>
<text x="409 417" y="464">ei</text>
<text x="480 483" y="458">iA</text>
<text x="308 311 319" y="474">iAu</text>
<text x="936 944" y="448">o-</text>
<text x="982 990" y="477">ou</text>
<text x="474" y="563">E</text>
<text x="915 928" y="566">@r</text>
<text x="1008 1016" y="582">ua</text>
<text x="967 975" y="625">Au</text>
<text x="915" y="668">A</text>
<text x="761 769" y="745">ai</text>
<text x="781" y="745">a</text>
</g>
</svg></body></html>
